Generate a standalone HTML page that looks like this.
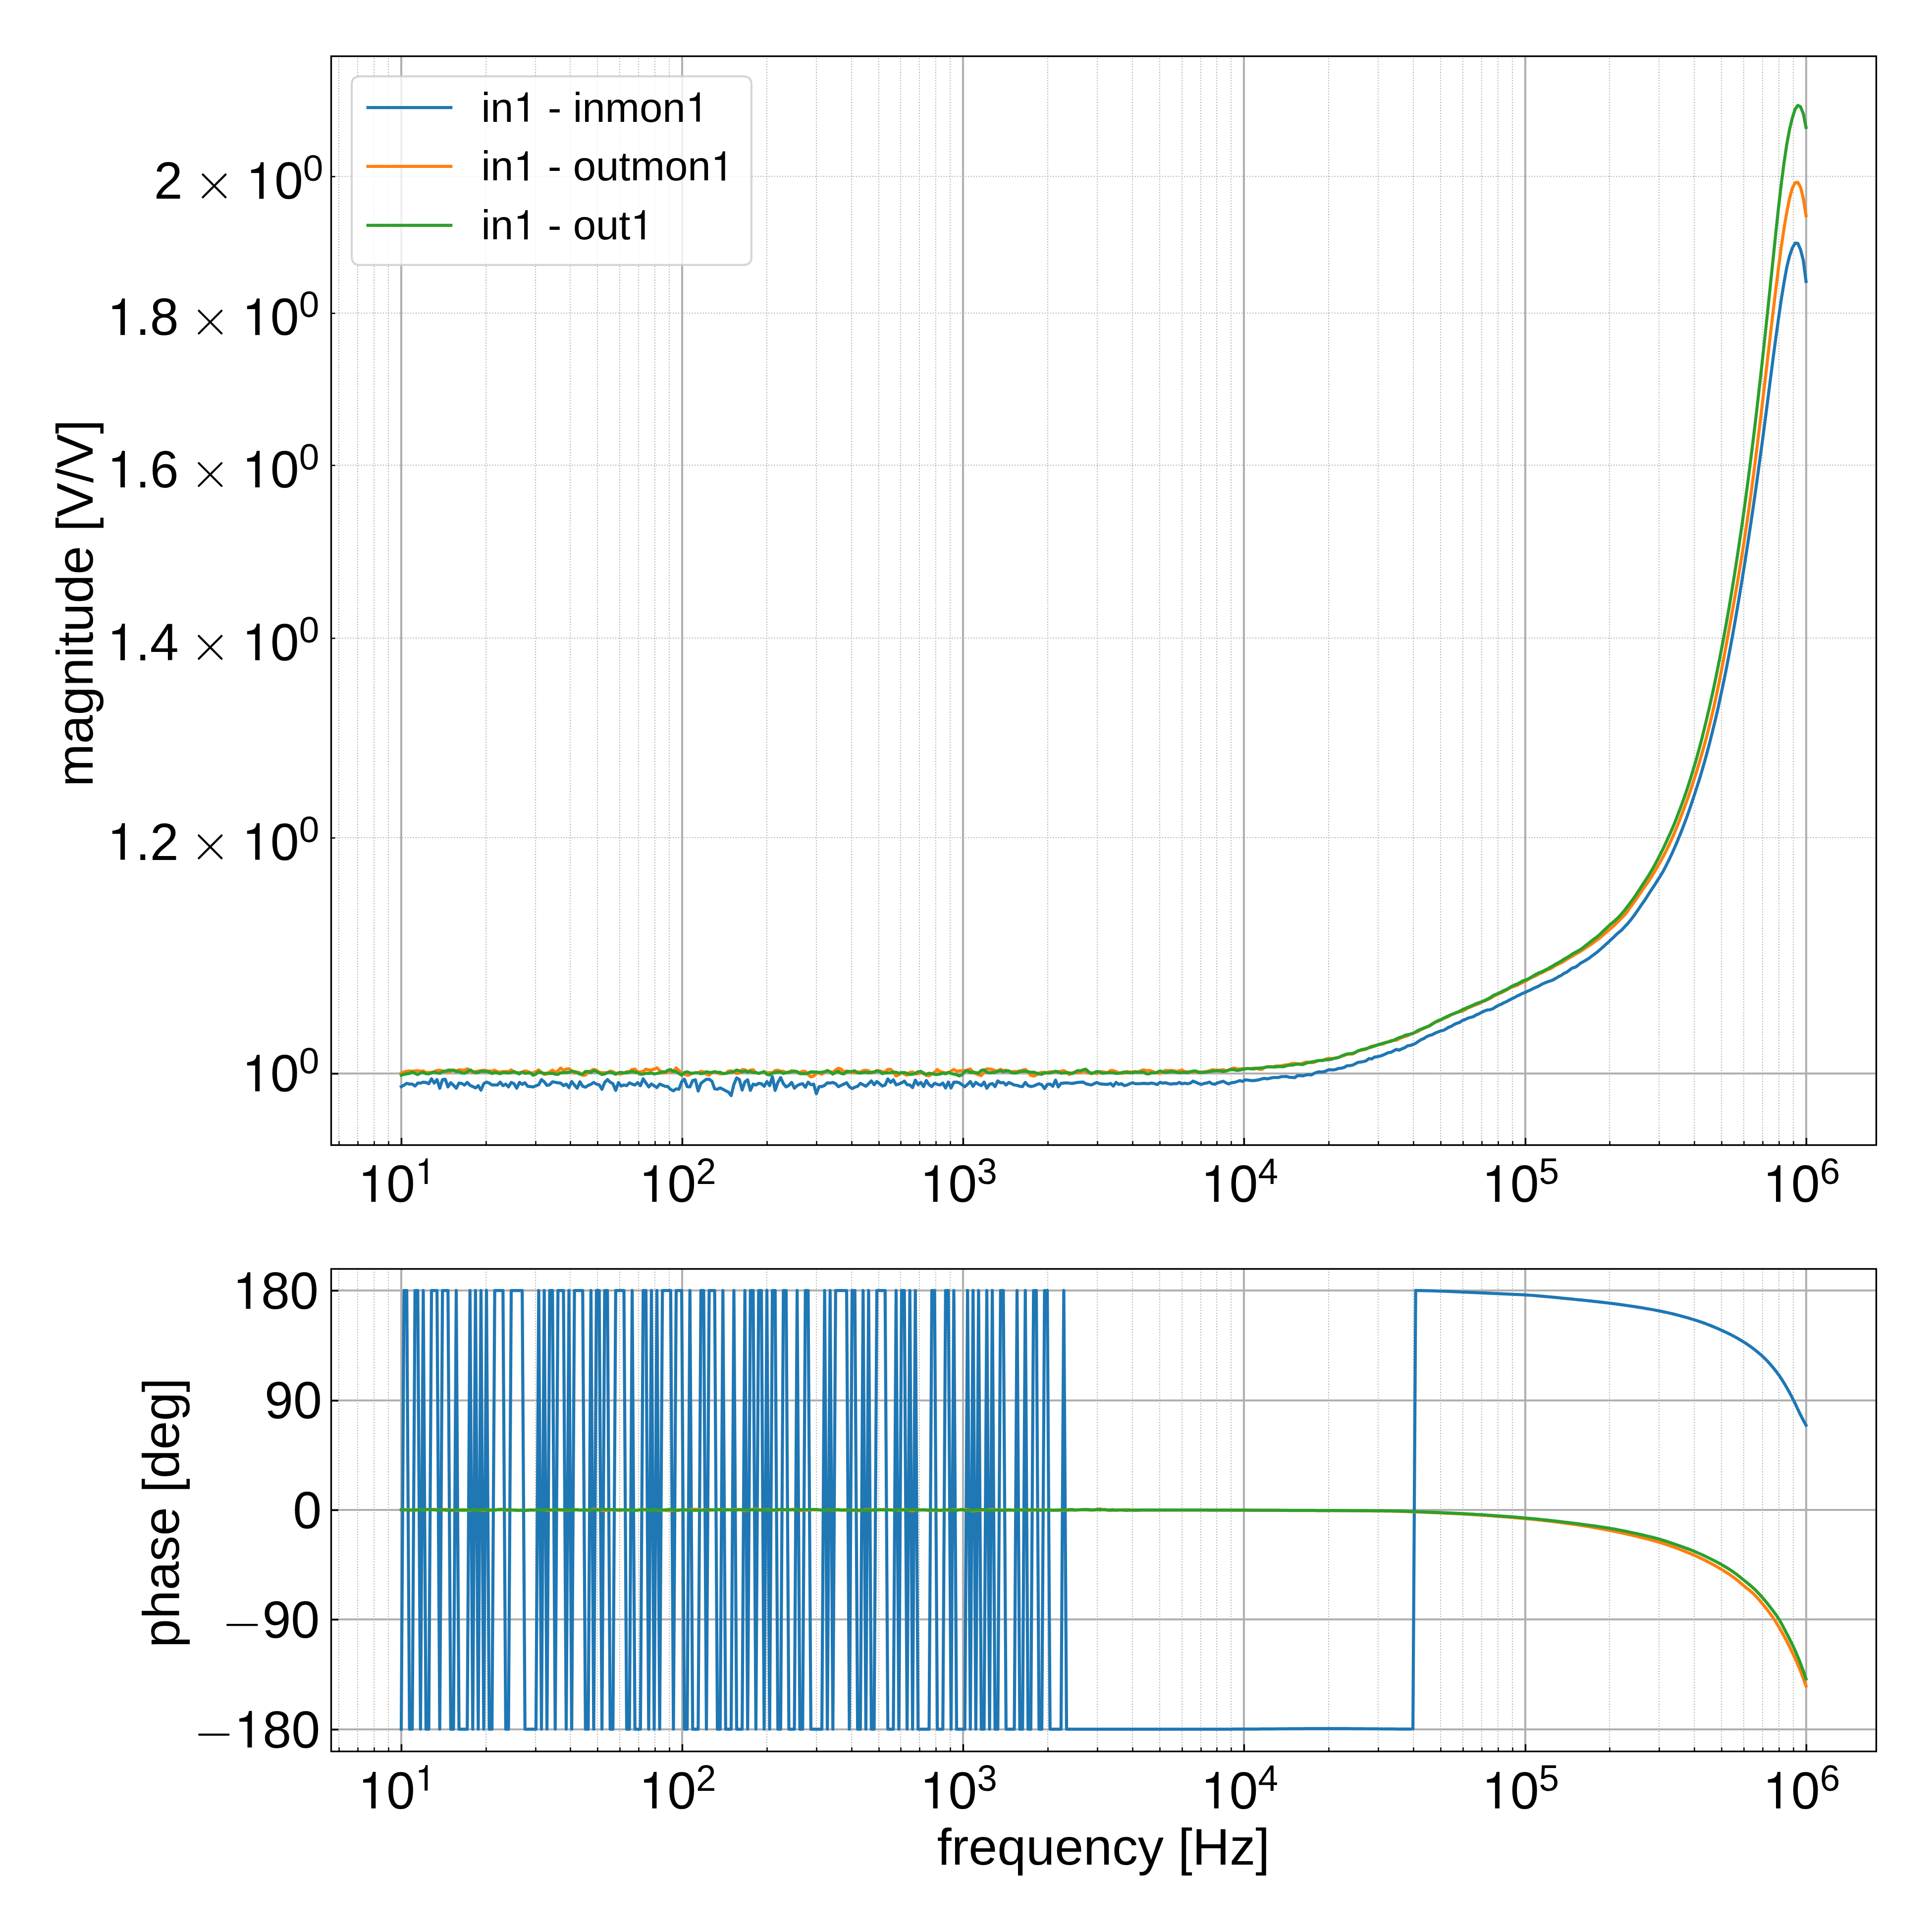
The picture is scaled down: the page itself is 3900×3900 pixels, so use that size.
<!DOCTYPE html>
<html><head><meta charset="utf-8"><title>Bode plot</title><style>html,body{margin:0;padding:0;background:#fff}svg{display:block}</style></head><body>
<svg width="3900" height="3900" viewBox="0 0 3900 3900" font-family="Liberation Sans, sans-serif" fill="#000">
<rect width="3900" height="3900" fill="#fff"/>
<defs><clipPath id="c1"><rect x="668.5" y="113.5" width="3119.0" height="2198.0"/></clipPath><clipPath id="c2"><rect x="668.5" y="2561.5" width="3119.0" height="974.0"/></clipPath></defs>
<g clip-path="url(#c1)">
<path d="M684 2311.5V113.5M722 2311.5V113.5M755 2311.5V113.5M784 2311.5V113.5M981 2311.5V113.5M1081 2311.5V113.5M1151 2311.5V113.5M1206 2311.5V113.5M1251 2311.5V113.5M1289 2311.5V113.5M1322 2311.5V113.5M1351 2311.5V113.5M1548 2311.5V113.5M1648 2311.5V113.5M1719 2311.5V113.5M1774 2311.5V113.5M1818 2311.5V113.5M1856 2311.5V113.5M1889 2311.5V113.5M1918 2311.5V113.5M2115 2311.5V113.5M2215 2311.5V113.5M2286 2311.5V113.5M2341 2311.5V113.5M2386 2311.5V113.5M2424 2311.5V113.5M2456 2311.5V113.5M2485 2311.5V113.5M2682 2311.5V113.5M2782 2311.5V113.5M2853 2311.5V113.5M2908 2311.5V113.5M2953 2311.5V113.5M2991 2311.5V113.5M3024 2311.5V113.5M3053 2311.5V113.5M3249 2311.5V113.5M3349 2311.5V113.5M3420 2311.5V113.5M3475 2311.5V113.5M3520 2311.5V113.5M3558 2311.5V113.5M3591 2311.5V113.5M3620 2311.5V113.5" stroke="#b0b0b0" stroke-width="2.08" stroke-dasharray="2.08 3.44" stroke-dashoffset="-0.5" fill="none"/>
<path d="M668.5 1691H3787.5M668.5 1288H3787.5M668.5 939H3787.5M668.5 632H3787.5M668.5 356H3787.5" stroke="#b0b0b0" stroke-width="2.08" stroke-dasharray="2.08 3.44" stroke-dashoffset="0.5" fill="none"/>
<path d="M810 2311.5V113.5M1377 2311.5V113.5M1944 2311.5V113.5M2511 2311.5V113.5M3079 2311.5V113.5M3646 2311.5V113.5M668.5 2167H3787.5" stroke="#b0b0b0" stroke-width="4.17" fill="none"/>
<polyline points="810,2193.5 815.55,2190.5 821.1,2186.86 826.65,2188.42 832.2,2188.42 837.75,2192.3 843.3,2186.35 848.85,2186.35 854.4,2184.53 859.94,2185.05 865.49,2187.64 871.04,2177.81 876.59,2186.35 882.14,2179.36 887.69,2196.7 893.24,2179.36 898.79,2178.58 904.34,2194.11 909.89,2185.57 915.44,2190.75 920.99,2196.7 926.54,2186.35 932.09,2187.12 937.64,2190.23 943.19,2185.05 948.74,2190.75 954.28,2193.33 959.83,2196.18 965.38,2191.52 970.93,2200.58 976.48,2187.64 982.03,2184.28 987.58,2186.35 993.13,2190.23 998.68,2190.23 1004.23,2190.23 1009.78,2184.53 1015.33,2191.52 1020.88,2188.42 1026.43,2194.11 1031.98,2185.05 1037.53,2187.64 1043.08,2196.7 1048.62,2185.05 1054.17,2188.93 1059.72,2185.83 1065.27,2192.82 1070.82,2193.46 1076.37,2194.11 1081.92,2191.91 1087.47,2189.71 1093.02,2179.36 1098.57,2183.76 1104.12,2191 1109.67,2189.71 1115.22,2183.76 1120.77,2184.79 1126.32,2185.83 1131.87,2186.35 1137.42,2191.52 1142.96,2188.42 1148.51,2195.4 1154.06,2183.24 1159.61,2190.23 1165.16,2196.7 1170.71,2183.76 1176.26,2192.82 1181.81,2194.63 1187.36,2191 1192.91,2188.93 1198.46,2185.05 1204.01,2188.42 1209.56,2189.71 1215.11,2198.77 1220.66,2185.05 1226.21,2179.36 1231.76,2184.53 1237.3,2187.64 1242.85,2201.1 1248.4,2185.57 1253.95,2192.3 1259.5,2190.23 1265.05,2191.52 1270.6,2185.83 1276.15,2188.42 1281.7,2190.23 1287.25,2185.57 1292.8,2191.52 1298.35,2177.81 1303.9,2185.96 1309.45,2194.11 1315,2188.16 1320.55,2191.78 1326.1,2195.4 1331.64,2188.42 1337.19,2190.62 1342.74,2192.82 1348.29,2193.33 1353.84,2199.29 1359.39,2201.87 1364.94,2197.99 1370.49,2198.77 1376.04,2183.76 1381.59,2178.58 1387.14,2193.33 1392.69,2194.11 1398.24,2181.17 1403.79,2179.88 1409.34,2202.39 1414.89,2186.86 1420.44,2182.46 1425.98,2178.58 1431.53,2178.58 1437.08,2182.46 1442.63,2197.99 1448.18,2198.77 1453.73,2196.18 1459.28,2198.77 1464.83,2201.87 1470.38,2204.46 1475.93,2211.45 1481.48,2188.93 1487.03,2175.99 1492.58,2179.36 1498.13,2200.58 1503.68,2183.76 1509.23,2179.88 1514.78,2201.1 1520.32,2188.42 1525.87,2190.23 1531.42,2186.86 1536.97,2187.64 1542.52,2192.82 1548.07,2183.24 1553.62,2191.52 1559.17,2173.41 1564.72,2201.1 1570.27,2185.05 1575.82,2175.22 1581.37,2187.64 1586.92,2194.11 1592.47,2191 1598.02,2185.05 1603.57,2196.7 1609.12,2191.52 1614.66,2188.93 1620.21,2187.64 1625.76,2194.63 1631.31,2184.53 1636.86,2189.71 1642.41,2188.42 1647.96,2207.83 1653.51,2193.33 1659.06,2193.33 1664.61,2191 1670.16,2185.83 1675.71,2186.35 1681.26,2185.05 1686.81,2187.64 1692.36,2193.59 1697.91,2191 1703.46,2188.42 1709,2185.83 1714.55,2193.59 1720.1,2197.47 1725.65,2194.63 1731.2,2192.82 1736.75,2186.86 1742.3,2189.84 1747.85,2192.82 1753.4,2187.64 1758.95,2181.95 1764.5,2189.71 1770.05,2183.24 1775.6,2187.77 1781.15,2192.3 1786.7,2190.23 1792.25,2178.06 1797.8,2185.05 1803.34,2179.88 1808.89,2189.71 1814.44,2188.42 1819.99,2185.83 1825.54,2182.46 1831.09,2189.71 1836.64,2190.23 1842.19,2195.4 1847.74,2180.39 1853.29,2189.71 1858.84,2185.05 1864.39,2193.33 1869.94,2181.17 1875.49,2189.71 1881.04,2193.33 1886.59,2186.86 1892.14,2188.93 1897.68,2190.23 1903.23,2186.35 1908.78,2196.18 1914.33,2184.28 1919.88,2196.18 1925.43,2184.53 1930.98,2184.28 1936.53,2185.83 1942.08,2189.71 1947.63,2193.59 1953.18,2188.93 1958.73,2183.24 1964.28,2192.82 1969.83,2185.05 1975.38,2188.93 1980.93,2191.52 1986.48,2184.53 1992.02,2196.7 1997.57,2188.93 2003.12,2187.12 2008.67,2193.33 2014.22,2181.95 2019.77,2185.83 2025.32,2185.05 2030.87,2190.23 2036.42,2185.05 2041.97,2187.64 2047.52,2190.23 2053.07,2191 2058.62,2192.82 2064.17,2193.33 2069.72,2185.05 2075.27,2191.52 2080.82,2193.33 2086.36,2192.3 2091.91,2189.71 2097.46,2187.64 2103.01,2189.71 2108.56,2197.47 2114.11,2188.93 2119.66,2188.42 2125.21,2192.82 2130.76,2180.39 2136.31,2194.11 2141.86,2186.86 2147.41,2186.35 2152.96,2185.83 2158.51,2186.48 2164.06,2187.12 2169.61,2186.09 2175.16,2185.05 2180.7,2184.66 2186.25,2184.28 2191.8,2187.64 2197.35,2188.93 2202.9,2190.23 2208.45,2187.64 2214,2185.05 2219.55,2187.64 2225.1,2188.29 2230.65,2188.93 2236.2,2188.93 2241.75,2187.12 2247.3,2192.3 2252.85,2185.05 2258.4,2188.93 2263.95,2187.64 2269.5,2191.52 2275.05,2190.23 2280.59,2187.64 2286.14,2185.83 2291.69,2187.64 2297.24,2187.64 2302.79,2187.3 2308.34,2186.81 2313.89,2187.32 2319.44,2187.32 2324.99,2186.25 2330.54,2187.47 2336.09,2189.34 2341.64,2184.79 2347.19,2186.63 2352.74,2185.67 2358.29,2187.34 2363.84,2188.47 2369.39,2187.43 2374.93,2187.69 2380.48,2184.95 2386.03,2187.98 2391.58,2186.45 2397.13,2187.68 2402.68,2186.45 2408.23,2182.5 2413.78,2184.73 2419.33,2187.11 2424.88,2188.92 2430.43,2187.24 2435.98,2186.16 2441.53,2184.36 2447.08,2187.98 2452.63,2188.62 2458.18,2185.87 2463.73,2184.34 2469.27,2182.67 2474.82,2185.92 2480.37,2188.14 2485.92,2185.58 2491.47,2185.11 2497.02,2183.39 2502.57,2181.33 2508.12,2182.89 2513.67,2179.99 2519.22,2180.4 2524.77,2181.07 2530.32,2181.46 2535.87,2180.62 2541.42,2179.78 2546.97,2177.83 2552.52,2176.84 2558.07,2177.76 2563.61,2176.59 2569.16,2175.3 2574.71,2175 2580.26,2175.19 2585.81,2173.49 2591.36,2173.25 2596.91,2172.99 2602.46,2174.52 2608.01,2174.97 2613.56,2175.39 2619.11,2171.36 2624.66,2171.07 2630.21,2171.89 2635.76,2170.1 2641.31,2169.23 2646.86,2169.92 2652.41,2166.99 2657.95,2164.63 2663.5,2163.56 2669.05,2164.08 2674.6,2162.92 2680.15,2160.19 2685.7,2159.4 2691.25,2159.82 2696.8,2158.74 2702.35,2156.6 2707.9,2156.3 2713.45,2154.73 2719,2151.42 2724.55,2151.03 2730.1,2150.24 2735.65,2147.54 2741.2,2144.52 2746.75,2143.83 2752.29,2143.02 2757.84,2141.18 2763.39,2136.86 2768.94,2137.72 2774.49,2133.8 2780.04,2133.14 2785.59,2131.97 2791.14,2130.11 2796.69,2127.6 2802.24,2124.96 2807.79,2124.13 2813.34,2121.14 2818.89,2118.37 2824.44,2119.88 2829.99,2117.11 2835.54,2115.05 2841.09,2111.28 2846.63,2110.43 2852.18,2108.57 2857.73,2105.97 2863.28,2102.18 2868.83,2098.72 2874.38,2096.41 2879.93,2092.55 2885.48,2090.22 2891.03,2088.73 2896.58,2085.68 2902.13,2083.47 2907.68,2081.31 2913.23,2080.05 2918.78,2077.15 2924.33,2073.78 2929.88,2071.61 2935.43,2068 2940.97,2065.68 2946.52,2063.76 2952.07,2060.21 2957.62,2057.98 2963.17,2055.23 2968.72,2053.8 2974.27,2052.26 2979.82,2048.74 2985.37,2046.54 2990.92,2043.57 2996.47,2040.9 3002.02,2038.82 3007.57,2038.24 3013.12,2036.53 3018.67,2032.91 3024.22,2029.61 3029.77,2027.54 3035.31,2024.41 3040.86,2022.04 3046.41,2018.98 3051.96,2016.13 3057.51,2013.49 3063.06,2010.32 3068.61,2007.83 3074.16,2004.93 3079.71,2003.02 3085.26,2000.07 3090.81,1997.83 3096.36,1994.75 3101.91,1992.51 3107.46,1989.88 3113.01,1986.5 3118.56,1984.11 3124.11,1981.81 3129.65,1980.16 3135.2,1978.04 3140.75,1974.79 3146.3,1971.37 3151.85,1968.73 3157.4,1964.65 3162.95,1962.28 3168.5,1958.12 3174.05,1954.08 3179.6,1952.62 3185.15,1948.82 3190.7,1944.21 3196.25,1941.17 3201.8,1938 3207.35,1934.66 3212.9,1930.28 3218.45,1926.28 3223.99,1922.11 3229.54,1917.26 3235.09,1912.46 3240.64,1907.16 3246.19,1902.66 3251.74,1896.85 3257.29,1892.03 3262.84,1886.48 3268.39,1881.65 3273.94,1877.04 3279.49,1870.82 3285.04,1865.16 3290.59,1858.6 3296.14,1851.35 3301.69,1843.82 3307.24,1835.68 3312.79,1827.56 3318.33,1819.77 3323.88,1811.42 3329.43,1802.65 3334.98,1794.09 3340.53,1785.84 3346.08,1777.01 3351.63,1768.28 3357.18,1759.12 3362.73,1748.43 3368.28,1737.28 3373.83,1725.76 3379.38,1713.5 3384.93,1700.69 3390.48,1687.24 3396.03,1673.27 3401.58,1658.6 3407.13,1643.59 3412.67,1627.49 3418.22,1611.01 3423.77,1593.85 3429.32,1576.82 3434.87,1558.29 3440.42,1539.29 3445.97,1519.05 3451.52,1498.1 3457.07,1475.76 3462.62,1453.04 3468.17,1429.32 3473.72,1403.27 3479.27,1377.29 3484.82,1349.85 3490.37,1320.77 3495.92,1290.95 3501.47,1260.15 3507.01,1227.93 3512.56,1195.23 3518.11,1161.14 3523.66,1126.23 3529.21,1090.31 3534.76,1053.39 3540.31,1015.37 3545.86,976.19 3551.41,935.74 3556.96,895.3 3562.51,853.28 3568.06,810.42 3573.61,766.95 3579.16,723.9 3584.71,682.15 3590.26,642.14 3595.81,604.29 3601.35,569.9 3606.9,539.52 3612.45,516.72 3618,500.7 3623.55,490.92 3629.1,491.15 3634.65,503.73 3640.2,525.72 3645.75,568.14" fill="none" stroke="#1f77b4" stroke-width="6.25" stroke-linejoin="round" stroke-linecap="square"/>
<polyline points="810,2166.3 815.55,2164 821.1,2162.5 826.65,2161.89 832.2,2162.75 837.75,2161.68 843.3,2161.4 848.85,2162.27 854.4,2161.74 859.94,2164.94 865.49,2164.89 871.04,2164.73 876.59,2163.18 882.14,2160.81 887.69,2160.29 893.24,2161.87 898.79,2162.49 904.34,2164.27 909.89,2162.91 915.44,2160.02 920.99,2161.41 926.54,2159.39 932.09,2160.43 937.64,2160.26 943.19,2157.47 948.74,2162.22 954.28,2164.36 959.83,2163.18 965.38,2162.08 970.93,2161.29 976.48,2160.24 982.03,2161.43 987.58,2161.99 993.13,2162.26 998.68,2160.51 1004.23,2163.4 1009.78,2164.34 1015.33,2163.04 1020.88,2162.87 1026.43,2163.2 1031.98,2159.75 1037.53,2163.61 1043.08,2165.25 1048.62,2165.23 1054.17,2164.46 1059.72,2161.81 1065.27,2162.85 1070.82,2165.77 1076.37,2165.85 1081.92,2163.1 1087.47,2159.79 1093.02,2164.88 1098.57,2168.81 1104.12,2168.16 1109.67,2163.7 1115.22,2160.08 1120.77,2164.61 1126.32,2161.41 1131.87,2156.07 1137.42,2160.39 1142.96,2158 1148.51,2157.31 1154.06,2161.56 1159.61,2166.32 1165.16,2164.03 1170.71,2165.8 1176.26,2170.82 1181.81,2170.11 1187.36,2164.63 1192.91,2161.31 1198.46,2158.66 1204.01,2160.49 1209.56,2164.48 1215.11,2165.28 1220.66,2165.32 1226.21,2165.83 1231.76,2162.15 1237.3,2163.29 1242.85,2166.29 1248.4,2167.21 1253.95,2167.81 1259.5,2165.53 1265.05,2163.37 1270.6,2163.21 1276.15,2159.09 1281.7,2158.06 1287.25,2163.47 1292.8,2164.29 1298.35,2162.58 1303.9,2158.28 1309.45,2159.95 1315,2160.38 1320.55,2157.84 1326.1,2155.37 1331.64,2161.05 1337.19,2166.31 1342.74,2165 1348.29,2162.09 1353.84,2163.65 1359.39,2162.88 1364.94,2155.8 1370.49,2160.79 1376.04,2165.79 1381.59,2168.01 1387.14,2170.66 1392.69,2169.15 1398.24,2166.03 1403.79,2165.64 1409.34,2165.7 1414.89,2162.71 1420.44,2163.83 1425.98,2168.37 1431.53,2170.33 1437.08,2165.12 1442.63,2163.47 1448.18,2165.56 1453.73,2167.85 1459.28,2166.49 1464.83,2167 1470.38,2162.01 1475.93,2161.78 1481.48,2163.63 1487.03,2166.9 1492.58,2166.01 1498.13,2159.14 1503.68,2159.57 1509.23,2162.96 1514.78,2160.34 1520.32,2159.38 1525.87,2165.69 1531.42,2166.76 1536.97,2165.15 1542.52,2163.8 1548.07,2166.01 1553.62,2165.17 1559.17,2165.75 1564.72,2161.12 1570.27,2160.29 1575.82,2162.61 1581.37,2162.45 1586.92,2165.24 1592.47,2164.19 1598.02,2161.21 1603.57,2162.53 1609.12,2163.66 1614.66,2165.42 1620.21,2162.26 1625.76,2162.96 1631.31,2169.3 1636.86,2173.94 1642.41,2172.24 1647.96,2166.26 1653.51,2166.07 1659.06,2168.48 1664.61,2163.93 1670.16,2160.73 1675.71,2163.51 1681.26,2164.34 1686.81,2159.93 1692.36,2156.3 1697.91,2158.31 1703.46,2163.42 1709,2161.99 1714.55,2162.73 1720.1,2164.91 1725.65,2165.51 1731.2,2163.93 1736.75,2163.97 1742.3,2161.2 1747.85,2160.62 1753.4,2161.47 1758.95,2166.1 1764.5,2164.11 1770.05,2161.12 1775.6,2161.69 1781.15,2163.48 1786.7,2163.99 1792.25,2158.57 1797.8,2158.53 1803.34,2164.24 1808.89,2172.14 1814.44,2169.3 1819.99,2165.25 1825.54,2168.06 1831.09,2170.6 1836.64,2164.92 1842.19,2163.76 1847.74,2167.66 1853.29,2167.35 1858.84,2165.87 1864.39,2165.07 1869.94,2171 1875.49,2171.72 1881.04,2168.14 1886.59,2164.4 1892.14,2159.11 1897.68,2163.45 1903.23,2164.44 1908.78,2165.73 1914.33,2166.07 1919.88,2161.79 1925.43,2158.78 1930.98,2162.44 1936.53,2161.7 1942.08,2161.48 1947.63,2161.37 1953.18,2159.79 1958.73,2157.84 1964.28,2165.46 1969.83,2167.21 1975.38,2169.73 1980.93,2171.21 1986.48,2164.23 1992.02,2157.56 1997.57,2158.05 2003.12,2158.85 2008.67,2161.3 2014.22,2161.63 2019.77,2158.54 2025.32,2161.42 2030.87,2160.3 2036.42,2163.25 2041.97,2163.7 2047.52,2162.97 2053.07,2163.01 2058.62,2161.89 2064.17,2160.25 2069.72,2158.88 2075.27,2164.14 2080.82,2170.8 2086.36,2172.23 2091.91,2169.99 2097.46,2166.5 2103.01,2164.29 2108.56,2167.11 2114.11,2165.17 2119.66,2163.63 2125.21,2163.41 2130.76,2163.72 2136.31,2163.07 2141.86,2162.65 2147.41,2161.16 2152.96,2164.24 2158.51,2169.11 2164.06,2165.64 2169.61,2163.97 2175.16,2165.74 2180.7,2165.29 2186.25,2162.06 2191.8,2163.55 2197.35,2166.23 2202.9,2165.55 2208.45,2165.81 2214,2167.08 2219.55,2163.96 2225.1,2163.48 2230.65,2164.25 2236.2,2165.47 2241.75,2160.8 2247.3,2161.09 2252.85,2163.13 2258.4,2165.56 2263.95,2166.8 2269.5,2166.25 2275.05,2162.61 2280.59,2164.38 2286.14,2163.7 2291.69,2163.11 2297.24,2164.17 2302.79,2161.52 2308.34,2159.58 2313.89,2161.24 2319.44,2160.82 2324.99,2162.25 2330.54,2164.5 2336.09,2165.74 2341.64,2166.74 2347.19,2163.56 2352.74,2160.64 2358.29,2161.01 2363.84,2160.96 2369.39,2161.26 2374.93,2163.1 2380.48,2161.44 2386.03,2160.12 2391.58,2163.1 2397.13,2163.46 2402.68,2163.5 2408.23,2163.52 2413.78,2163.72 2419.33,2163.56 2424.88,2164.43 2430.43,2163.61 2435.98,2162.93 2441.53,2161.74 2447.08,2159.46 2452.63,2160.09 2458.18,2160.57 2463.73,2160.14 2469.27,2159.36 2474.82,2161.71 2480.37,2160.1 2485.92,2157.04 2491.47,2156.14 2497.02,2157.6 2502.57,2157.91 2508.12,2157.23 2513.67,2157.35 2519.22,2156.97 2524.77,2157.25 2530.32,2156.1 2535.87,2156.47 2541.42,2158.32 2546.97,2158.74 2552.52,2154.85 2558.07,2153.4 2563.61,2153.41 2569.16,2153.9 2574.71,2152.08 2580.26,2151.75 2585.81,2151.63 2591.36,2150.19 2596.91,2149.48 2602.46,2148.81 2608.01,2146.83 2613.56,2146.68 2619.11,2147.58 2624.66,2147.71 2630.21,2146.19 2635.76,2144.06 2641.31,2144.47 2646.86,2145.28 2652.41,2144.33 2657.95,2142.34 2663.5,2140.84 2669.05,2140.63 2674.6,2138.7 2680.15,2136.75 2685.7,2136.55 2691.25,2137.19 2696.8,2135.74 2702.35,2134.25 2707.9,2131.98 2713.45,2130.71 2719,2128.29 2724.55,2127.41 2730.1,2127.73 2735.65,2124.92 2741.2,2121.7 2746.75,2120.14 2752.29,2119.24 2757.84,2117.92 2763.39,2114.61 2768.94,2111.72 2774.49,2110.89 2780.04,2109.8 2785.59,2108.52 2791.14,2107.47 2796.69,2105.39 2802.24,2103.22 2807.79,2100.64 2813.34,2100.24 2818.89,2099.58 2824.44,2096.91 2829.99,2094.26 2835.54,2092.56 2841.09,2091.06 2846.63,2087.61 2852.18,2085.52 2857.73,2083.95 2863.28,2081.56 2868.83,2078.4 2874.38,2075.82 2879.93,2072.94 2885.48,2070.22 2891.03,2067.09 2896.58,2063.83 2902.13,2061.83 2907.68,2059.61 2913.23,2056.15 2918.78,2053.8 2924.33,2051.55 2929.88,2048.32 2935.43,2045.89 2940.97,2043.34 2946.52,2042.22 2952.07,2040.93 2957.62,2038.16 2963.17,2034.69 2968.72,2032.49 2974.27,2030.16 2979.82,2028.13 2985.37,2026.13 2990.92,2022.79 2996.47,2020.8 3002.02,2018.2 3007.57,2015.76 3013.12,2012.27 3018.67,2008.84 3024.22,2006.58 3029.77,2004.24 3035.31,2001.39 3040.86,1998.7 3046.41,1995.25 3051.96,1992.1 3057.51,1990.94 3063.06,1988.67 3068.61,1985.58 3074.16,1982.89 3079.71,1980.39 3085.26,1976.84 3090.81,1973.65 3096.36,1971.37 3101.91,1968.87 3107.46,1965.51 3113.01,1963.3 3118.56,1960.14 3124.11,1957.36 3129.65,1955.46 3135.2,1952.21 3140.75,1948.62 3146.3,1945.9 3151.85,1943.39 3157.4,1940.11 3162.95,1936.23 3168.5,1933.14 3174.05,1930.06 3179.6,1926.61 3185.15,1923.68 3190.7,1920.35 3196.25,1916.63 3201.8,1912.99 3207.35,1909.42 3212.9,1905.5 3218.45,1901.24 3223.99,1897.16 3229.54,1893.11 3235.09,1888.29 3240.64,1883.57 3246.19,1878.76 3251.74,1873.9 3257.29,1869.23 3262.84,1863.59 3268.39,1858.38 3273.94,1852.65 3279.49,1847.01 3285.04,1840.07 3290.59,1831.83 3296.14,1824.46 3301.69,1816.92 3307.24,1808.61 3312.79,1800.23 3318.33,1792.3 3323.88,1784.68 3329.43,1776.54 3334.98,1767.91 3340.53,1758.91 3346.08,1749 3351.63,1739.63 3357.18,1729.42 3362.73,1719 3368.28,1707.47 3373.83,1695.39 3379.38,1683.04 3384.93,1669.6 3390.48,1655.54 3396.03,1641 3401.58,1626.32 3407.13,1611.04 3412.67,1594.95 3418.22,1578.03 3423.77,1560.77 3429.32,1542.51 3434.87,1523.59 3440.42,1504.1 3445.97,1483.47 3451.52,1461.34 3457.07,1438.16 3462.62,1413.63 3468.17,1387.41 3473.72,1359.6 3479.27,1330.8 3484.82,1300.71 3490.37,1270.35 3495.92,1239.65 3501.47,1208.81 3507.01,1177.02 3512.56,1144.02 3518.11,1109.84 3523.66,1073.51 3529.21,1035.64 3534.76,995.64 3540.31,953.65 3545.86,910.36 3551.41,865.71 3556.96,819.56 3562.51,772.45 3568.06,724.72 3573.61,676.97 3579.16,630.04 3584.71,583.87 3590.26,539.58 3595.81,497.95 3601.35,460.68 3606.9,427.93 3612.45,400.32 3618,379.95 3623.55,369.05 3629.1,368.12 3634.65,377.75 3640.2,400.28 3645.75,435.47" fill="none" stroke="#ff7f0e" stroke-width="6.25" stroke-linejoin="round" stroke-linecap="square"/>
<polyline points="810,2170.6 815.55,2168.6 821.1,2167.6 826.65,2167 832.2,2163.8 837.75,2166.83 843.3,2169.16 848.85,2165.81 854.4,2164.91 859.94,2167.26 865.49,2167.64 871.04,2166.08 876.59,2164.18 882.14,2166 887.69,2166.75 893.24,2163.29 898.79,2162.5 904.34,2160.34 909.89,2160.12 915.44,2160.62 920.99,2163.06 926.54,2163.2 932.09,2165.83 937.64,2166.52 943.19,2163.71 948.74,2159.6 954.28,2162.69 959.83,2165.56 965.38,2164.98 970.93,2162.13 976.48,2162.81 982.03,2162.63 987.58,2164.12 993.13,2167.08 998.68,2164.87 1004.23,2165.88 1009.78,2167.44 1015.33,2165.14 1020.88,2165.21 1026.43,2166.06 1031.98,2165.06 1037.53,2163.07 1043.08,2166.09 1048.62,2167.75 1054.17,2163.98 1059.72,2166.6 1065.27,2166.21 1070.82,2165.97 1076.37,2170.49 1081.92,2168.15 1087.47,2163.6 1093.02,2165.36 1098.57,2166.94 1104.12,2166.27 1109.67,2167.05 1115.22,2166.61 1120.77,2168.33 1126.32,2168.99 1131.87,2165.41 1137.42,2165.18 1142.96,2164.82 1148.51,2164.57 1154.06,2162.48 1159.61,2163.14 1165.16,2165.41 1170.71,2168.48 1176.26,2167.93 1181.81,2162.8 1187.36,2163.2 1192.91,2164.83 1198.46,2161.11 1204.01,2162.82 1209.56,2166.02 1215.11,2169.01 1220.66,2167.96 1226.21,2165.1 1231.76,2164.27 1237.3,2165.96 1242.85,2168.6 1248.4,2165.6 1253.95,2164.83 1259.5,2166.08 1265.05,2165.45 1270.6,2164.13 1276.15,2162.83 1281.7,2164.3 1287.25,2165.51 1292.8,2168.49 1298.35,2168.05 1303.9,2166.62 1309.45,2166.86 1315,2166.21 1320.55,2167.77 1326.1,2166.92 1331.64,2165.9 1337.19,2163.35 1342.74,2163.98 1348.29,2160.29 1353.84,2159.23 1359.39,2162.5 1364.94,2163.39 1370.49,2167.08 1376.04,2170.29 1381.59,2164.98 1387.14,2163.64 1392.69,2165.97 1398.24,2166.77 1403.79,2165.42 1409.34,2165.55 1414.89,2167.49 1420.44,2166.54 1425.98,2163.55 1431.53,2164.6 1437.08,2164.76 1442.63,2163.38 1448.18,2164.65 1453.73,2164.61 1459.28,2167.32 1464.83,2166.91 1470.38,2165.48 1475.93,2164.2 1481.48,2163.21 1487.03,2159.93 1492.58,2161.63 1498.13,2163.79 1503.68,2161.63 1509.23,2164.41 1514.78,2162.84 1520.32,2165.25 1525.87,2164.88 1531.42,2166.83 1536.97,2165.29 1542.52,2163.14 1548.07,2168.43 1553.62,2169.92 1559.17,2166.4 1564.72,2164.78 1570.27,2164.21 1575.82,2164.09 1581.37,2166.92 1586.92,2165.19 1592.47,2164.39 1598.02,2163.2 1603.57,2162.45 1609.12,2163.14 1614.66,2167.36 1620.21,2167.05 1625.76,2167.74 1631.31,2165.85 1636.86,2163.73 1642.41,2163.82 1647.96,2164.03 1653.51,2164.86 1659.06,2164.49 1664.61,2163.47 1670.16,2161.49 1675.71,2163.94 1681.26,2168.25 1686.81,2164.53 1692.36,2162.87 1697.91,2166.67 1703.46,2167.97 1709,2163.19 1714.55,2163.41 1720.1,2162.52 1725.65,2161.58 1731.2,2165.86 1736.75,2166.2 1742.3,2165.13 1747.85,2164.28 1753.4,2165.61 1758.95,2164.6 1764.5,2163.92 1770.05,2161.91 1775.6,2162.95 1781.15,2167.31 1786.7,2165.75 1792.25,2165.84 1797.8,2165.4 1803.34,2164.13 1808.89,2164.57 1814.44,2166.41 1819.99,2165.29 1825.54,2165.02 1831.09,2166.49 1836.64,2168.91 1842.19,2168.46 1847.74,2166.58 1853.29,2163.47 1858.84,2162.69 1864.39,2167.47 1869.94,2168.51 1875.49,2166.5 1881.04,2167.38 1886.59,2168.53 1892.14,2168.92 1897.68,2168.04 1903.23,2166.51 1908.78,2167.73 1914.33,2164.62 1919.88,2166.98 1925.43,2168.15 1930.98,2169.55 1936.53,2171.88 1942.08,2169.63 1947.63,2162.74 1953.18,2161.37 1958.73,2165.27 1964.28,2163.86 1969.83,2165.39 1975.38,2166.17 1980.93,2160.69 1986.48,2159.51 1992.02,2164.47 1997.57,2165.67 2003.12,2165.05 2008.67,2164.74 2014.22,2162.41 2019.77,2161.32 2025.32,2163.22 2030.87,2161.98 2036.42,2161.57 2041.97,2165.33 2047.52,2166.07 2053.07,2165.6 2058.62,2163.23 2064.17,2162.67 2069.72,2162.31 2075.27,2163.1 2080.82,2164.7 2086.36,2164.3 2091.91,2165.89 2097.46,2167.8 2103.01,2168.73 2108.56,2164.74 2114.11,2166.17 2119.66,2165.87 2125.21,2164.41 2130.76,2162.42 2136.31,2164.13 2141.86,2166.45 2147.41,2165.8 2152.96,2165.33 2158.51,2165.67 2164.06,2167.26 2169.61,2164.72 2175.16,2161.13 2180.7,2161.68 2186.25,2159.66 2191.8,2158.39 2197.35,2163.35 2202.9,2167.29 2208.45,2165.52 2214,2162.92 2219.55,2163.79 2225.1,2166.7 2230.65,2166.22 2236.2,2165.44 2241.75,2165.26 2247.3,2165.76 2252.85,2166.83 2258.4,2166.65 2263.95,2165.33 2269.5,2164.08 2275.05,2165.11 2280.59,2165.06 2286.14,2165.82 2291.69,2163.87 2297.24,2164.37 2302.79,2164.46 2308.34,2164.16 2313.89,2167.59 2319.44,2167.7 2324.99,2165.49 2330.54,2166 2336.09,2164.58 2341.64,2161.71 2347.19,2163.89 2352.74,2164.77 2358.29,2164.21 2363.84,2163.07 2369.39,2163.52 2374.93,2164.49 2380.48,2165.74 2386.03,2165.01 2391.58,2164.76 2397.13,2165.46 2402.68,2163.55 2408.23,2162.16 2413.78,2161.8 2419.33,2164.73 2424.88,2165.17 2430.43,2164.55 2435.98,2163.78 2441.53,2162.85 2447.08,2162.31 2452.63,2161.58 2458.18,2161.27 2463.73,2161.83 2469.27,2162.81 2474.82,2161.79 2480.37,2160.28 2485.92,2159.17 2491.47,2159.41 2497.02,2160.94 2502.57,2160.12 2508.12,2158.8 2513.67,2157.63 2519.22,2156.75 2524.77,2157.47 2530.32,2157.91 2535.87,2156.67 2541.42,2156 2546.97,2155.74 2552.52,2155.05 2558.07,2153.57 2563.61,2153.6 2569.16,2153.54 2574.71,2153.87 2580.26,2152.82 2585.81,2153.24 2591.36,2153.34 2596.91,2151.35 2602.46,2150.17 2608.01,2150.06 2613.56,2149.15 2619.11,2147.97 2624.66,2148.57 2630.21,2148.8 2635.76,2146.57 2641.31,2144.87 2646.86,2143.7 2652.41,2143.18 2657.95,2141.4 2663.5,2140.73 2669.05,2140.98 2674.6,2139.41 2680.15,2139.35 2685.7,2138.71 2691.25,2136.71 2696.8,2135.61 2702.35,2134.73 2707.9,2131.94 2713.45,2129.39 2719,2127.52 2724.55,2127.03 2730.1,2126.58 2735.65,2124.42 2741.2,2121.34 2746.75,2119.36 2752.29,2118.14 2757.84,2116.91 2763.39,2115.09 2768.94,2113.46 2774.49,2111.65 2780.04,2109.51 2785.59,2107.78 2791.14,2106.15 2796.69,2104.39 2802.24,2103.22 2807.79,2102.15 2813.34,2099.78 2818.89,2097.04 2824.44,2094.51 2829.99,2093.03 2835.54,2090.3 2841.09,2088.61 2846.63,2087.92 2852.18,2085.96 2857.73,2082.86 2863.28,2079.65 2868.83,2077.44 2874.38,2075.09 2879.93,2073.28 2885.48,2071.19 2891.03,2067.39 2896.58,2063.61 2902.13,2060.67 2907.68,2058.48 2913.23,2055.82 2918.78,2052.89 2924.33,2050.5 2929.88,2047.87 2935.43,2046.16 2940.97,2043.96 2946.52,2041.18 2952.07,2038.14 2957.62,2035.89 2963.17,2033.46 2968.72,2031.06 2974.27,2028.72 2979.82,2026.05 2985.37,2023.91 2990.92,2022.34 2996.47,2019.71 3002.02,2017.11 3007.57,2014.24 3013.12,2010.35 3018.67,2007.61 3024.22,2005.41 3029.77,2002.75 3035.31,1999.87 3040.86,1997.48 3046.41,1994.32 3051.96,1990.8 3057.51,1988.23 3063.06,1986.3 3068.61,1983.34 3074.16,1980.01 3079.71,1978.26 3085.26,1975.72 3090.81,1972.78 3096.36,1969.21 3101.91,1966.01 3107.46,1963.34 3113.01,1961.46 3118.56,1958.45 3124.11,1955.74 3129.65,1952.49 3135.2,1949.38 3140.75,1945.91 3146.3,1943.01 3151.85,1939.93 3157.4,1936.11 3162.95,1933.06 3168.5,1929.53 3174.05,1925.85 3179.6,1922.79 3185.15,1919.75 3190.7,1916.43 3196.25,1912.43 3201.8,1908.05 3207.35,1903.68 3212.9,1899.2 3218.45,1894.97 3223.99,1890.96 3229.54,1886.28 3235.09,1880.73 3240.64,1875.64 3246.19,1870.34 3251.74,1865.25 3257.29,1860.65 3262.84,1855.59 3268.39,1850.37 3273.94,1844 3279.49,1837.43 3285.04,1830.28 3290.59,1822.85 3296.14,1815.5 3301.69,1807.41 3307.24,1799.09 3312.79,1790.48 3318.33,1781.95 3323.88,1773.67 3329.43,1764.94 3334.98,1755.64 3340.53,1745.51 3346.08,1735.15 3351.63,1724.27 3357.18,1713.38 3362.73,1701.46 3368.28,1689.2 3373.83,1677.06 3379.38,1664.12 3384.93,1649.92 3390.48,1635.49 3396.03,1620.56 3401.58,1604.88 3407.13,1588.58 3412.67,1571.13 3418.22,1553.02 3423.77,1534.2 3429.32,1514.16 3434.87,1493.29 3440.42,1471.1 3445.97,1447.87 3451.52,1423.86 3457.07,1399.22 3462.62,1372.85 3468.17,1345.61 3473.72,1317.42 3479.27,1288.17 3484.82,1257.88 3490.37,1226.42 3495.92,1193.05 3501.47,1158.56 3507.01,1122.99 3512.56,1086.04 3518.11,1047.89 3523.66,1007.87 3529.21,965.88 3534.76,922.48 3540.31,877.81 3545.86,831.33 3551.41,782.7 3556.96,733.24 3562.51,682.26 3568.06,630.26 3573.61,577.11 3579.16,523.62 3584.71,470 3590.26,418.25 3595.81,370.94 3601.35,328.38 3606.9,290.92 3612.45,261.25 3618,238.51 3623.55,220.68 3629.1,212.77 3634.65,215.58 3640.2,229.42 3645.75,257.32" fill="none" stroke="#2ca02c" stroke-width="6.25" stroke-linejoin="round" stroke-linecap="square"/>
</g>
<path d="M810.5 2311.5v-14.58M1377.5 2311.5v-14.58M1944.5 2311.5v-14.58M2511.5 2311.5v-14.58M3079.5 2311.5v-14.58M3646.5 2311.5v-14.58M668.5 2167.5h14.58" stroke="#000" stroke-width="3.33" fill="none"/>
<path d="M684.5 2311.5v-8.33M722.5 2311.5v-8.33M755.5 2311.5v-8.33M784.5 2311.5v-8.33M981.5 2311.5v-8.33M1081.5 2311.5v-8.33M1151.5 2311.5v-8.33M1206.5 2311.5v-8.33M1251.5 2311.5v-8.33M1289.5 2311.5v-8.33M1322.5 2311.5v-8.33M1351.5 2311.5v-8.33M1548.5 2311.5v-8.33M1648.5 2311.5v-8.33M1719.5 2311.5v-8.33M1774.5 2311.5v-8.33M1818.5 2311.5v-8.33M1856.5 2311.5v-8.33M1889.5 2311.5v-8.33M1918.5 2311.5v-8.33M2115.5 2311.5v-8.33M2215.5 2311.5v-8.33M2286.5 2311.5v-8.33M2341.5 2311.5v-8.33M2386.5 2311.5v-8.33M2424.5 2311.5v-8.33M2456.5 2311.5v-8.33M2485.5 2311.5v-8.33M2682.5 2311.5v-8.33M2782.5 2311.5v-8.33M2853.5 2311.5v-8.33M2908.5 2311.5v-8.33M2953.5 2311.5v-8.33M2991.5 2311.5v-8.33M3024.5 2311.5v-8.33M3053.5 2311.5v-8.33M3249.5 2311.5v-8.33M3349.5 2311.5v-8.33M3420.5 2311.5v-8.33M3475.5 2311.5v-8.33M3520.5 2311.5v-8.33M3558.5 2311.5v-8.33M3591.5 2311.5v-8.33M3620.5 2311.5v-8.33M668.5 1691.5h8.33M668.5 1288.5h8.33M668.5 939.5h8.33M668.5 632.5h8.33M668.5 356.5h8.33" stroke="#000" stroke-width="2.5" fill="none"/>
<rect x="668.5" y="113.5" width="3119.0" height="2198.0" fill="none" stroke="#000" stroke-width="3.33" stroke-linejoin="miter"/>
<g clip-path="url(#c2)">
<path d="M684 3535.5V2561.5M722 3535.5V2561.5M755 3535.5V2561.5M784 3535.5V2561.5M981 3535.5V2561.5M1081 3535.5V2561.5M1151 3535.5V2561.5M1206 3535.5V2561.5M1251 3535.5V2561.5M1289 3535.5V2561.5M1322 3535.5V2561.5M1351 3535.5V2561.5M1548 3535.5V2561.5M1648 3535.5V2561.5M1719 3535.5V2561.5M1774 3535.5V2561.5M1818 3535.5V2561.5M1856 3535.5V2561.5M1889 3535.5V2561.5M1918 3535.5V2561.5M2115 3535.5V2561.5M2215 3535.5V2561.5M2286 3535.5V2561.5M2341 3535.5V2561.5M2386 3535.5V2561.5M2424 3535.5V2561.5M2456 3535.5V2561.5M2485 3535.5V2561.5M2682 3535.5V2561.5M2782 3535.5V2561.5M2853 3535.5V2561.5M2908 3535.5V2561.5M2953 3535.5V2561.5M2991 3535.5V2561.5M3024 3535.5V2561.5M3053 3535.5V2561.5M3249 3535.5V2561.5M3349 3535.5V2561.5M3420 3535.5V2561.5M3475 3535.5V2561.5M3520 3535.5V2561.5M3558 3535.5V2561.5M3591 3535.5V2561.5M3620 3535.5V2561.5" stroke="#b0b0b0" stroke-width="2.08" stroke-dasharray="2.08 3.44" stroke-dashoffset="-0.5" fill="none"/>
<path d="M810 3535.5V2561.5M1377 3535.5V2561.5M1944 3535.5V2561.5M2511 3535.5V2561.5M3079 3535.5V2561.5M3646 3535.5V2561.5M668.5 3491H3787.5M668.5 3269H3787.5M668.5 3048H3787.5M668.5 2827H3787.5M668.5 2605H3787.5" stroke="#b0b0b0" stroke-width="4.17" fill="none"/>
<polyline points="810,3490.6 815.55,2605 821.1,2605 826.65,3490.6 832.2,3490.6 837.75,2605 843.3,2605 848.85,3490.6 854.4,2605 859.94,3490.6 865.49,3490.6 871.04,2605 876.59,2605 882.14,2605 887.69,3490.6 893.24,2605 898.79,2605 904.34,2605 909.89,3490.6 915.44,3490.6 920.99,2605 926.54,3490.6 932.09,3490.6 937.64,3490.6 943.19,3490.6 948.74,2605 954.28,3490.6 959.83,2605 965.38,3490.6 970.93,2605 976.48,3490.6 982.03,2605 987.58,3490.6 993.13,3490.6 998.68,2605 1004.23,2605 1009.78,2605 1015.33,2605 1020.88,3490.6 1026.43,3490.6 1031.98,2605 1037.53,2605 1043.08,2605 1048.62,2605 1054.17,2605 1059.72,3490.6 1065.27,3490.6 1070.82,3490.6 1076.37,3490.6 1081.92,3490.6 1087.47,2605 1093.02,3490.6 1098.57,2605 1104.12,3490.6 1109.67,2605 1115.22,2605 1120.77,3490.6 1126.32,2605 1131.87,2605 1137.42,2605 1142.96,3490.6 1148.51,2605 1154.06,3490.6 1159.61,2605 1165.16,2605 1170.71,2605 1176.26,2605 1181.81,3490.6 1187.36,3490.6 1192.91,2605 1198.46,3490.6 1204.01,2605 1209.56,2605 1215.11,3490.6 1220.66,2605 1226.21,2605 1231.76,3490.6 1237.3,3490.6 1242.85,2605 1248.4,2605 1253.95,2605 1259.5,2605 1265.05,3490.6 1270.6,3490.6 1276.15,2605 1281.7,3490.6 1287.25,3490.6 1292.8,3490.6 1298.35,2605 1303.9,2605 1309.45,3490.6 1315,2605 1320.55,3490.6 1326.1,2605 1331.64,3490.6 1337.19,2605 1342.74,2605 1348.29,2605 1353.84,2605 1359.39,3490.6 1364.94,2605 1370.49,2605 1376.04,2605 1381.59,3490.6 1387.14,3490.6 1392.69,2605 1398.24,3490.6 1403.79,3490.6 1409.34,3490.6 1414.89,2605 1420.44,2605 1425.98,3490.6 1431.53,2605 1437.08,2605 1442.63,2605 1448.18,3490.6 1453.73,3490.6 1459.28,2605 1464.83,3490.6 1470.38,3490.6 1475.93,3490.6 1481.48,2605 1487.03,3490.6 1492.58,3490.6 1498.13,3490.6 1503.68,2605 1509.23,3490.6 1514.78,2605 1520.32,2605 1525.87,3490.6 1531.42,2605 1536.97,2605 1542.52,3490.6 1548.07,2605 1553.62,3490.6 1559.17,2605 1564.72,2605 1570.27,3490.6 1575.82,3490.6 1581.37,2605 1586.92,2605 1592.47,3490.6 1598.02,3490.6 1603.57,3490.6 1609.12,2605 1614.66,3490.6 1620.21,3490.6 1625.76,2605 1631.31,2605 1636.86,3490.6 1642.41,3490.6 1647.96,3490.6 1653.51,3490.6 1659.06,3490.6 1664.61,2605 1670.16,3490.6 1675.71,2605 1681.26,3490.6 1686.81,2605 1692.36,2605 1697.91,2605 1703.46,2605 1709,2605 1714.55,3490.6 1720.1,2605 1725.65,2605 1731.2,3490.6 1736.75,3490.6 1742.3,2605 1747.85,3490.6 1753.4,2605 1758.95,3490.6 1764.5,3490.6 1770.05,2605 1775.6,2605 1781.15,2605 1786.7,2605 1792.25,3490.6 1797.8,3490.6 1803.34,3490.6 1808.89,2605 1814.44,3490.6 1819.99,2605 1825.54,2605 1831.09,3490.6 1836.64,2605 1842.19,3490.6 1847.74,2605 1853.29,3490.6 1858.84,3490.6 1864.39,3490.6 1869.94,3490.6 1875.49,3490.6 1881.04,2605 1886.59,2605 1892.14,3490.6 1897.68,3490.6 1903.23,3490.6 1908.78,2605 1914.33,2605 1919.88,3490.6 1925.43,2605 1930.98,3490.6 1936.53,3490.6 1942.08,3490.6 1947.63,3490.6 1953.18,2605 1958.73,3490.6 1964.28,2605 1969.83,3490.6 1975.38,2605 1980.93,3490.6 1986.48,3490.6 1992.02,2605 1997.57,3490.6 2003.12,2605 2008.67,3490.6 2014.22,3490.6 2019.77,2605 2025.32,2605 2030.87,3490.6 2036.42,3490.6 2041.97,3490.6 2047.52,3490.6 2053.07,2605 2058.62,3490.6 2064.17,3490.6 2069.72,2605 2075.27,3490.6 2080.82,3490.6 2086.36,2605 2091.91,2605 2097.46,3490.6 2103.01,3490.6 2108.56,2605 2114.11,2605 2119.66,3490.6 2125.21,3490.6 2130.76,3490.6 2136.31,3490.6 2141.86,3490.6 2147.41,2605 2152.96,3490.6 2158.51,3490.6 2164.06,3490.6 2169.61,3490.6 2175.16,3490.6 2180.7,3490.6 2186.25,3490.6 2191.8,3490.6 2197.35,3490.6 2202.9,3490.6 2208.45,3490.6 2214,3490.6 2219.55,3490.6 2225.1,3490.6 2230.65,3490.6 2236.2,3490.6 2241.75,3490.6 2247.3,3490.6 2252.85,3490.6 2258.4,3490.6 2263.95,3490.6 2269.5,3490.6 2275.05,3490.6 2280.59,3490.6 2286.14,3490.6 2291.69,3490.6 2297.24,3490.6 2302.79,3490.6 2308.34,3490.6 2313.89,3490.6 2319.44,3490.6 2324.99,3490.6 2330.54,3490.6 2336.09,3490.6 2341.64,3490.6 2347.19,3490.6 2352.74,3490.6 2358.29,3490.6 2363.84,3490.6 2369.39,3490.6 2374.93,3490.6 2380.48,3490.6 2386.03,3490.6 2391.58,3490.6 2397.13,3490.59 2402.68,3490.59 2408.23,3490.59 2413.78,3490.59 2419.33,3490.59 2424.88,3490.59 2430.43,3490.58 2435.98,3490.58 2441.53,3490.57 2447.08,3490.57 2452.63,3490.56 2458.18,3490.56 2463.73,3490.55 2469.27,3490.54 2474.82,3490.53 2480.37,3490.52 2485.92,3490.5 2491.47,3490.49 2497.02,3490.47 2502.57,3490.45 2508.12,3490.43 2513.67,3490.41 2519.22,3490.38 2524.77,3490.36 2530.32,3490.33 2535.87,3490.29 2541.42,3490.26 2546.97,3490.22 2552.52,3490.18 2558.07,3490.14 2563.61,3490.09 2569.16,3490.05 2574.71,3490 2580.26,3489.95 2585.81,3489.9 2591.36,3489.85 2596.91,3489.8 2602.46,3489.74 2608.01,3489.69 2613.56,3489.64 2619.11,3489.6 2624.66,3489.55 2630.21,3489.51 2635.76,3489.47 2641.31,3489.43 2646.86,3489.4 2652.41,3489.37 2657.95,3489.34 2663.5,3489.32 2669.05,3489.31 2674.6,3489.3 2680.15,3489.3 2685.7,3489.3 2691.25,3489.31 2696.8,3489.33 2702.35,3489.34 2707.9,3489.37 2713.45,3489.4 2719,3489.43 2724.55,3489.47 2730.1,3489.51 2735.65,3489.55 2741.2,3489.6 2746.75,3489.65 2752.29,3489.7 2757.84,3489.75 2763.39,3489.8 2768.94,3489.85 2774.49,3489.9 2780.04,3489.95 2785.59,3490 2791.14,3490.05 2796.69,3490.1 2802.24,3490.14 2807.79,3490.18 2813.34,3490.22 2818.89,3490.26 2824.44,3490.29 2829.99,3490.33 2835.54,3490.36 2841.09,3490.39 2846.63,3490.41 2852.18,3490 2857.73,2604.9 2863.28,2605.01 2868.83,2605.13 2874.38,2605.27 2879.93,2605.42 2885.48,2605.57 2891.03,2605.74 2896.58,2605.91 2902.13,2606.09 2907.68,2606.28 2913.23,2606.48 2918.78,2606.71 2924.33,2606.95 2929.88,2607.21 2935.43,2607.47 2940.97,2607.73 2946.52,2608 2952.07,2608.25 2957.62,2608.49 2963.17,2608.74 2968.72,2608.98 2974.27,2609.22 2979.82,2609.46 2985.37,2609.7 2990.92,2609.94 2996.47,2610.18 3002.02,2610.42 3007.57,2610.66 3013.12,2610.91 3018.67,2611.16 3024.22,2611.41 3029.77,2611.65 3035.31,2611.89 3040.86,2612.13 3046.41,2612.36 3051.96,2612.61 3057.51,2612.85 3063.06,2613.12 3068.61,2613.39 3074.16,2613.69 3079.71,2614.01 3085.26,2614.36 3090.81,2614.75 3096.36,2615.16 3101.91,2615.6 3107.46,2616.07 3113.01,2616.55 3118.56,2617.05 3124.11,2617.57 3129.65,2618.1 3135.2,2618.64 3140.75,2619.18 3146.3,2619.73 3151.85,2620.28 3157.4,2620.82 3162.95,2621.36 3168.5,2621.9 3174.05,2622.44 3179.6,2622.99 3185.15,2623.54 3190.7,2624.1 3196.25,2624.66 3201.8,2625.24 3207.35,2625.82 3212.9,2626.41 3218.45,2627.02 3223.99,2627.64 3229.54,2628.27 3235.09,2628.92 3240.64,2629.59 3246.19,2630.27 3251.74,2630.97 3257.29,2631.69 3262.84,2632.41 3268.39,2633.15 3273.94,2633.91 3279.49,2634.68 3285.04,2635.47 3290.59,2636.27 3296.14,2637.1 3301.69,2637.94 3307.24,2638.81 3312.79,2639.7 3318.33,2640.62 3323.88,2641.56 3329.43,2642.52 3334.98,2643.52 3340.53,2644.54 3346.08,2645.59 3351.63,2646.68 3357.18,2647.82 3362.73,2649.01 3368.28,2650.25 3373.83,2651.55 3379.38,2652.89 3384.93,2654.28 3390.48,2655.72 3396.03,2657.21 3401.58,2658.75 3407.13,2660.33 3412.67,2661.96 3418.22,2663.63 3423.77,2665.35 3429.32,2667.16 3434.87,2669.07 3440.42,2671.06 3445.97,2673.13 3451.52,2675.28 3457.07,2677.5 3462.62,2679.8 3468.17,2682.17 3473.72,2684.6 3479.27,2687.1 3484.82,2689.71 3490.37,2692.42 3495.92,2695.24 3501.47,2698.19 3507.01,2701.26 3512.56,2704.47 3518.11,2707.83 3523.66,2711.34 3529.21,2715.06 3534.76,2719 3540.31,2723.16 3545.86,2727.53 3551.41,2732.13 3556.96,2736.96 3562.51,2742.17 3568.06,2747.95 3573.61,2754.11 3579.16,2760.57 3584.71,2767.45 3590.26,2774.86 3595.81,2782.99 3601.35,2791.87 3606.9,2801.24 3612.45,2811.11 3618,2821.6 3623.55,2832.8 3629.1,2844.78 3634.65,2856.29 3640.2,2866.93 3645.75,2877" fill="none" stroke="#1f77b4" stroke-width="6.25" stroke-linejoin="round" stroke-linecap="square"/>
<polyline points="810,3047.75 815.55,3047.33 821.1,3047 826.65,3047.6 832.2,3048.57 837.75,3048.88 843.3,3047.9 848.85,3047.78 854.4,3047.61 859.94,3047.2 865.49,3047.11 871.04,3047.4 876.59,3046.95 882.14,3047.69 887.69,3047.89 893.24,3047.37 898.79,3046.92 904.34,3047.32 909.89,3048.58 915.44,3047.91 920.99,3048.82 926.54,3048.64 932.09,3047.65 937.64,3047.42 943.19,3048.78 948.74,3049.11 954.28,3047.73 959.83,3047.84 965.38,3048.67 970.93,3048.88 976.48,3049.21 982.03,3048.2 987.58,3047.94 993.13,3047.8 998.68,3048.88 1004.23,3047.52 1009.78,3046.43 1015.33,3047.41 1020.88,3048.31 1026.43,3049.1 1031.98,3048.21 1037.53,3048.05 1043.08,3048.72 1048.62,3049.12 1054.17,3048.54 1059.72,3048.76 1065.27,3048.49 1070.82,3047.95 1076.37,3048 1081.92,3047.84 1087.47,3047.7 1093.02,3048.26 1098.57,3047.66 1104.12,3048.65 1109.67,3048.84 1115.22,3047.99 1120.77,3047.46 1126.32,3047.8 1131.87,3048.42 1137.42,3048.64 1142.96,3048.57 1148.51,3048.57 1154.06,3047.93 1159.61,3047.69 1165.16,3047.24 1170.71,3048.18 1176.26,3048.18 1181.81,3048.04 1187.36,3048.8 1192.91,3048.08 1198.46,3046.41 1204.01,3047.1 1209.56,3047.34 1215.11,3048.91 1220.66,3049.69 1226.21,3048.25 1231.76,3047.89 1237.3,3047.95 1242.85,3048.32 1248.4,3048.78 1253.95,3048.75 1259.5,3048.02 1265.05,3048.58 1270.6,3047.84 1276.15,3048.24 1281.7,3048.96 1287.25,3048.51 1292.8,3047.43 1298.35,3047.27 1303.9,3047.56 1309.45,3048.14 1315,3048.45 1320.55,3047.56 1326.1,3048.16 1331.64,3048.63 1337.19,3048.61 1342.74,3048.77 1348.29,3049.19 1353.84,3048.85 1359.39,3048.79 1364.94,3048.96 1370.49,3048.86 1376.04,3047.51 1381.59,3048.36 1387.14,3048.08 1392.69,3047.58 1398.24,3046.95 1403.79,3046.56 1409.34,3047.23 1414.89,3047.62 1420.44,3047.87 1425.98,3047.53 1431.53,3048.67 1437.08,3048.46 1442.63,3047.78 1448.18,3047.36 1453.73,3047.14 1459.28,3047.03 1464.83,3047.45 1470.38,3047.88 1475.93,3047.62 1481.48,3047.05 1487.03,3047.37 1492.58,3047.46 1498.13,3048.35 1503.68,3049.38 1509.23,3048.78 1514.78,3047.63 1520.32,3046.65 1525.87,3046.43 1531.42,3046.84 1536.97,3047.96 1542.52,3047.74 1548.07,3047.78 1553.62,3047.69 1559.17,3048.28 1564.72,3048.8 1570.27,3047.85 1575.82,3047.51 1581.37,3047.66 1586.92,3048.2 1592.47,3047.36 1598.02,3046.82 1603.57,3046.63 1609.12,3046.97 1614.66,3048.61 1620.21,3049.56 1625.76,3048.21 1631.31,3048.5 1636.86,3048.19 1642.41,3047.37 1647.96,3047.6 1653.51,3047.71 1659.06,3048.01 1664.61,3048.71 1670.16,3047.38 1675.71,3047.96 1681.26,3048.24 1686.81,3047.81 1692.36,3048.23 1697.91,3048.69 1703.46,3048.46 1709,3048.52 1714.55,3048.16 1720.1,3047.28 1725.65,3049.06 1731.2,3050.05 1736.75,3049.42 1742.3,3048.63 1747.85,3047.4 1753.4,3047.52 1758.95,3047.42 1764.5,3047.75 1770.05,3048.39 1775.6,3047.77 1781.15,3047.41 1786.7,3046.83 1792.25,3047.6 1797.8,3047.96 1803.34,3047.52 1808.89,3047.91 1814.44,3048.86 1819.99,3047.52 1825.54,3047 1831.09,3047.63 1836.64,3049.14 1842.19,3049.76 1847.74,3048.62 1853.29,3047.64 1858.84,3047.92 1864.39,3048.48 1869.94,3048.09 1875.49,3049.14 1881.04,3049.34 1886.59,3048.61 1892.14,3048.7 1897.68,3049.07 1903.23,3049.03 1908.78,3048.06 1914.33,3048.55 1919.88,3047.98 1925.43,3047.59 1930.98,3047.98 1936.53,3047.8 1942.08,3047.11 1947.63,3046.71 1953.18,3047.51 1958.73,3049.27 1964.28,3049.83 1969.83,3049.24 1975.38,3048.91 1980.93,3048.06 1986.48,3048.04 1992.02,3048.07 1997.57,3047.31 2003.12,3047.31 2008.67,3047.92 2014.22,3047.74 2019.77,3047.5 2025.32,3048.11 2030.87,3048.3 2036.42,3048.74 2041.97,3048.32 2047.52,3048 2053.07,3048.14 2058.62,3047.94 2064.17,3047.62 2069.72,3047.94 2075.27,3048.7 2080.82,3049.03 2086.36,3048.75 2091.91,3047.31 2097.46,3047.47 2103.01,3047.87 2108.56,3048.1 2114.11,3047.83 2119.66,3047.94 2125.21,3048.61 2130.76,3048.22 2136.31,3047.79 2141.86,3048.99 2147.41,3048.99 2152.96,3048.24 2158.51,3048.43 2164.06,3048.17 2169.61,3048.7 2175.16,3048.14 2180.7,3047.58 2186.25,3047.63 2191.8,3047.69 2197.35,3048.21 2202.9,3048.38 2208.45,3048.16 2214,3047.08 2219.55,3045.82 2225.1,3047.06 2230.65,3047.11 2236.2,3048.21 2241.75,3049.05 2247.3,3048.57 2252.85,3048.01 2258.4,3048.01 2263.95,3048 2269.5,3047.74 2275.05,3047.56 2280.59,3047.8 2286.14,3048.79 2291.69,3048.71 2297.24,3048.8 2302.79,3048.26 2308.34,3048.26 2313.89,3048.26 2319.44,3048.26 2324.99,3048.27 2330.54,3048.27 2336.09,3048.27 2341.64,3048.27 2347.19,3048.28 2352.74,3048.28 2358.29,3048.28 2363.84,3048.28 2369.39,3048.29 2374.93,3048.29 2380.48,3048.29 2386.03,3048.29 2391.58,3048.3 2397.13,3048.3 2402.68,3048.3 2408.23,3048.31 2413.78,3048.31 2419.33,3048.32 2424.88,3048.33 2430.43,3048.34 2435.98,3048.35 2441.53,3048.36 2447.08,3048.37 2452.63,3048.39 2458.18,3048.4 2463.73,3048.42 2469.27,3048.44 2474.82,3048.45 2480.37,3048.47 2485.92,3048.49 2491.47,3048.51 2497.02,3048.54 2502.57,3048.56 2508.12,3048.58 2513.67,3048.6 2519.22,3048.63 2524.77,3048.65 2530.32,3048.68 2535.87,3048.7 2541.42,3048.73 2546.97,3048.75 2552.52,3048.78 2558.07,3048.8 2563.61,3048.83 2569.16,3048.86 2574.71,3048.88 2580.26,3048.91 2585.81,3048.93 2591.36,3048.96 2596.91,3048.99 2602.46,3049.01 2608.01,3049.04 2613.56,3049.06 2619.11,3049.08 2624.66,3049.11 2630.21,3049.13 2635.76,3049.16 2641.31,3049.18 2646.86,3049.2 2652.41,3049.23 2657.95,3049.25 2663.5,3049.28 2669.05,3049.3 2674.6,3049.33 2680.15,3049.36 2685.7,3049.39 2691.25,3049.41 2696.8,3049.44 2702.35,3049.48 2707.9,3049.51 2713.45,3049.54 2719,3049.58 2724.55,3049.61 2730.1,3049.65 2735.65,3049.69 2741.2,3049.73 2746.75,3049.77 2752.29,3049.82 2757.84,3049.87 2763.39,3049.92 2768.94,3049.97 2774.49,3050.02 2780.04,3050.08 2785.59,3050.14 2791.14,3050.2 2796.69,3050.26 2802.24,3050.33 2807.79,3050.42 2813.34,3050.54 2818.89,3050.68 2824.44,3050.84 2829.99,3051.02 2835.54,3051.2 2841.09,3051.4 2846.63,3051.59 2852.18,3051.79 2857.73,3051.99 2863.28,3052.19 2868.83,3052.39 2874.38,3052.6 2879.93,3052.82 2885.48,3053.04 2891.03,3053.27 2896.58,3053.51 2902.13,3053.75 2907.68,3054 2913.23,3054.26 2918.78,3054.52 2924.33,3054.79 2929.88,3055.07 2935.43,3055.35 2940.97,3055.64 2946.52,3055.94 2952.07,3056.24 2957.62,3056.55 2963.17,3056.86 2968.72,3057.19 2974.27,3057.52 2979.82,3057.87 2985.37,3058.22 2990.92,3058.58 2996.47,3058.95 3002.02,3059.33 3007.57,3059.71 3013.12,3060.11 3018.67,3060.51 3024.22,3060.92 3029.77,3061.34 3035.31,3061.77 3040.86,3062.21 3046.41,3062.66 3051.96,3063.11 3057.51,3063.58 3063.06,3064.05 3068.61,3064.53 3074.16,3065.02 3079.71,3065.52 3085.26,3066.03 3090.81,3066.57 3096.36,3067.12 3101.91,3067.69 3107.46,3068.28 3113.01,3068.89 3118.56,3069.52 3124.11,3070.16 3129.65,3070.82 3135.2,3071.5 3140.75,3072.19 3146.3,3072.89 3151.85,3073.61 3157.4,3074.34 3162.95,3075.09 3168.5,3075.85 3174.05,3076.63 3179.6,3077.44 3185.15,3078.26 3190.7,3079.11 3196.25,3079.97 3201.8,3080.86 3207.35,3081.76 3212.9,3082.69 3218.45,3083.64 3223.99,3084.61 3229.54,3085.59 3235.09,3086.6 3240.64,3087.63 3246.19,3088.67 3251.74,3089.74 3257.29,3090.84 3262.84,3091.98 3268.39,3093.15 3273.94,3094.36 3279.49,3095.6 3285.04,3096.87 3290.59,3098.16 3296.14,3099.48 3301.69,3100.82 3307.24,3102.18 3312.79,3103.55 3318.33,3104.94 3323.88,3106.34 3329.43,3107.76 3334.98,3109.19 3340.53,3110.67 3346.08,3112.24 3351.63,3113.9 3357.18,3115.65 3362.73,3117.48 3368.28,3119.38 3373.83,3121.33 3379.38,3123.33 3384.93,3125.37 3390.48,3127.44 3396.03,3129.58 3401.58,3131.77 3407.13,3134.03 3412.67,3136.35 3418.22,3138.73 3423.77,3141.17 3429.32,3143.71 3434.87,3146.34 3440.42,3149.05 3445.97,3151.86 3451.52,3154.74 3457.07,3157.71 3462.62,3160.77 3468.17,3163.93 3473.72,3167.19 3479.27,3170.56 3484.82,3174.04 3490.37,3177.67 3495.92,3181.47 3501.47,3185.5 3507.01,3189.92 3512.56,3194.65 3518.11,3199.42 3523.66,3203.96 3529.21,3208.31 3534.76,3212.81 3540.31,3217.8 3545.86,3223.55 3551.41,3229.89 3556.96,3236.54 3562.51,3243.31 3568.06,3250.34 3573.61,3257.73 3579.16,3265.6 3584.71,3274.15 3590.26,3283.22 3595.81,3292.74 3601.35,3302.76 3606.9,3313.21 3612.45,3324.14 3618,3335.58 3623.55,3347.48 3629.1,3359.93 3634.65,3373.31 3640.2,3387.83 3645.75,3403.4" fill="none" stroke="#ff7f0e" stroke-width="6.25" stroke-linejoin="round" stroke-linecap="square"/>
<polyline points="810,3047.79 815.55,3047.91 821.1,3048.06 826.65,3048.49 832.2,3047.97 837.75,3048.05 843.3,3047.67 848.85,3048.09 854.4,3047.64 859.94,3046.79 865.49,3047.41 871.04,3047.44 876.59,3047.87 882.14,3048.46 887.69,3047.56 893.24,3047.56 898.79,3048.51 904.34,3048.53 909.89,3048.78 915.44,3048.26 920.99,3047.64 926.54,3048.03 932.09,3048.71 937.64,3048.63 943.19,3048.16 948.74,3048.01 954.28,3047.86 959.83,3048.03 965.38,3048.8 970.93,3048.13 976.48,3047.4 982.03,3047.72 987.58,3048.36 993.13,3048.39 998.68,3047.93 1004.23,3047.68 1009.78,3047.64 1015.33,3047.02 1020.88,3047.26 1026.43,3048.08 1031.98,3047.97 1037.53,3048.29 1043.08,3048.73 1048.62,3048.5 1054.17,3048.46 1059.72,3049.09 1065.27,3048.6 1070.82,3048.07 1076.37,3048.35 1081.92,3048.17 1087.47,3047.69 1093.02,3047.87 1098.57,3047.62 1104.12,3047.04 1109.67,3047.56 1115.22,3047.78 1120.77,3047.49 1126.32,3047.12 1131.87,3047.57 1137.42,3047.95 1142.96,3047.86 1148.51,3047.6 1154.06,3047.92 1159.61,3047.51 1165.16,3047.92 1170.71,3048.46 1176.26,3047.82 1181.81,3047.83 1187.36,3048.36 1192.91,3047.96 1198.46,3047.84 1204.01,3048.23 1209.56,3048.17 1215.11,3047.03 1220.66,3047.11 1226.21,3047.24 1231.76,3047.21 1237.3,3047.31 1242.85,3047.53 1248.4,3047.87 1253.95,3047.67 1259.5,3047.99 1265.05,3048.1 1270.6,3047.76 1276.15,3048.22 1281.7,3048.84 1287.25,3048.32 1292.8,3047.76 1298.35,3047.73 1303.9,3047.63 1309.45,3048.13 1315,3048.32 1320.55,3047.74 1326.1,3047.96 1331.64,3048.41 1337.19,3048 1342.74,3047.86 1348.29,3047.45 1353.84,3047.39 1359.39,3047.99 1364.94,3048.85 1370.49,3048.09 1376.04,3047.63 1381.59,3047.66 1387.14,3047.96 1392.69,3048.32 1398.24,3048.53 1403.79,3049 1409.34,3048.66 1414.89,3048.75 1420.44,3048.47 1425.98,3048.11 1431.53,3047.45 1437.08,3047.73 1442.63,3047.93 1448.18,3047.56 1453.73,3047.16 1459.28,3048.02 1464.83,3047.92 1470.38,3047.73 1475.93,3047.81 1481.48,3047.95 1487.03,3047.97 1492.58,3047.37 1498.13,3047.46 1503.68,3048.03 1509.23,3048.08 1514.78,3047.79 1520.32,3047.58 1525.87,3047.56 1531.42,3048.06 1536.97,3048.38 1542.52,3047.98 1548.07,3048.68 1553.62,3048.58 1559.17,3048.08 1564.72,3048.08 1570.27,3047.23 1575.82,3046.83 1581.37,3047.12 1586.92,3047.6 1592.47,3047.74 1598.02,3047.77 1603.57,3047.67 1609.12,3047.17 1614.66,3047.7 1620.21,3047.38 1625.76,3047.46 1631.31,3047.57 1636.86,3047.24 1642.41,3047.09 1647.96,3047.37 1653.51,3047.97 1659.06,3048.39 1664.61,3048.23 1670.16,3047.56 1675.71,3047.39 1681.26,3047.58 1686.81,3047.78 1692.36,3047.4 1697.91,3048.21 1703.46,3047.9 1709,3047.68 1714.55,3048.24 1720.1,3048.62 1725.65,3048.53 1731.2,3048.6 1736.75,3048.47 1742.3,3048.82 1747.85,3048.79 1753.4,3048.43 1758.95,3048.71 1764.5,3048.37 1770.05,3047.98 1775.6,3047.61 1781.15,3047.91 1786.7,3048.16 1792.25,3047.7 1797.8,3048.2 1803.34,3048.36 1808.89,3047.9 1814.44,3047.1 1819.99,3047.77 1825.54,3048.22 1831.09,3047.84 1836.64,3047.62 1842.19,3047.12 1847.74,3047.89 1853.29,3048.02 1858.84,3048.07 1864.39,3047.49 1869.94,3048.06 1875.49,3048.2 1881.04,3048.25 1886.59,3047.69 1892.14,3048.01 1897.68,3048.86 1903.23,3047.95 1908.78,3047.59 1914.33,3047.69 1919.88,3047.77 1925.43,3048.73 1930.98,3048.93 1936.53,3047.77 1942.08,3047.39 1947.63,3048.52 1953.18,3048.9 1958.73,3048.81 1964.28,3048.6 1969.83,3047.86 1975.38,3047.66 1980.93,3047.22 1986.48,3047.4 1992.02,3048.21 1997.57,3048.31 2003.12,3049.03 2008.67,3048.39 2014.22,3047.95 2019.77,3048.64 2025.32,3049.11 2030.87,3048.41 2036.42,3047.69 2041.97,3048.3 2047.52,3048.7 2053.07,3047.98 2058.62,3047.84 2064.17,3048.47 2069.72,3048.16 2075.27,3047.58 2080.82,3047.65 2086.36,3047.76 2091.91,3048.15 2097.46,3048.39 2103.01,3048.76 2108.56,3048.37 2114.11,3047.6 2119.66,3048.2 2125.21,3048.66 2130.76,3048.63 2136.31,3048.57 2141.86,3047.89 2147.41,3047.76 2152.96,3048.23 2158.51,3047.46 2164.06,3047.16 2169.61,3048.14 2175.16,3047.92 2180.7,3047.67 2186.25,3047.26 2191.8,3047.15 2197.35,3047.36 2202.9,3047.86 2208.45,3047.89 2214,3047.29 2219.55,3047.94 2225.1,3047.57 2230.65,3047.59 2236.2,3048.28 2241.75,3047.99 2247.3,3047.74 2252.85,3048.61 2258.4,3048.1 2263.95,3048.17 2269.5,3048.51 2275.05,3048.76 2280.59,3048.34 2286.14,3048.43 2291.69,3048.17 2297.24,3048.44 2302.79,3048.17 2308.34,3048.17 2313.89,3048.17 2319.44,3048.18 2324.99,3048.18 2330.54,3048.18 2336.09,3048.18 2341.64,3048.18 2347.19,3048.18 2352.74,3048.19 2358.29,3048.19 2363.84,3048.19 2369.39,3048.19 2374.93,3048.19 2380.48,3048.19 2386.03,3048.2 2391.58,3048.2 2397.13,3048.2 2402.68,3048.2 2408.23,3048.2 2413.78,3048.21 2419.33,3048.21 2424.88,3048.22 2430.43,3048.23 2435.98,3048.24 2441.53,3048.25 2447.08,3048.26 2452.63,3048.27 2458.18,3048.29 2463.73,3048.3 2469.27,3048.32 2474.82,3048.33 2480.37,3048.35 2485.92,3048.37 2491.47,3048.39 2497.02,3048.4 2502.57,3048.42 2508.12,3048.44 2513.67,3048.46 2519.22,3048.48 2524.77,3048.5 2530.32,3048.53 2535.87,3048.55 2541.42,3048.57 2546.97,3048.59 2552.52,3048.61 2558.07,3048.64 2563.61,3048.66 2569.16,3048.68 2574.71,3048.7 2580.26,3048.72 2585.81,3048.75 2591.36,3048.77 2596.91,3048.79 2602.46,3048.81 2608.01,3048.83 2613.56,3048.85 2619.11,3048.87 2624.66,3048.89 2630.21,3048.91 2635.76,3048.92 2641.31,3048.94 2646.86,3048.96 2652.41,3048.98 2657.95,3049 2663.5,3049.02 2669.05,3049.03 2674.6,3049.05 2680.15,3049.07 2685.7,3049.09 2691.25,3049.12 2696.8,3049.14 2702.35,3049.16 2707.9,3049.18 2713.45,3049.21 2719,3049.24 2724.55,3049.26 2730.1,3049.29 2735.65,3049.32 2741.2,3049.35 2746.75,3049.39 2752.29,3049.42 2757.84,3049.46 2763.39,3049.5 2768.94,3049.54 2774.49,3049.58 2780.04,3049.62 2785.59,3049.67 2791.14,3049.72 2796.69,3049.77 2802.24,3049.82 2807.79,3049.91 2813.34,3050.01 2818.89,3050.14 2824.44,3050.3 2829.99,3050.46 2835.54,3050.64 2841.09,3050.82 2846.63,3051.01 2852.18,3051.2 2857.73,3051.39 2863.28,3051.58 2868.83,3051.77 2874.38,3051.97 2879.93,3052.18 2885.48,3052.39 2891.03,3052.61 2896.58,3052.84 2902.13,3053.07 2907.68,3053.31 2913.23,3053.55 2918.78,3053.8 2924.33,3054.06 2929.88,3054.32 2935.43,3054.59 2940.97,3054.87 2946.52,3055.15 2952.07,3055.44 2957.62,3055.74 2963.17,3056.04 2968.72,3056.35 2974.27,3056.67 2979.82,3057 2985.37,3057.34 2990.92,3057.69 2996.47,3058.04 3002.02,3058.41 3007.57,3058.78 3013.12,3059.16 3018.67,3059.55 3024.22,3059.94 3029.77,3060.35 3035.31,3060.76 3040.86,3061.18 3046.41,3061.6 3051.96,3062.04 3057.51,3062.48 3063.06,3062.93 3068.61,3063.38 3074.16,3063.85 3079.71,3064.32 3085.26,3064.8 3090.81,3065.31 3096.36,3065.83 3101.91,3066.37 3107.46,3066.93 3113.01,3067.5 3118.56,3068.09 3124.11,3068.69 3129.65,3069.3 3135.2,3069.93 3140.75,3070.56 3146.3,3071.21 3151.85,3071.86 3157.4,3072.51 3162.95,3073.18 3168.5,3073.85 3174.05,3074.52 3179.6,3075.21 3185.15,3075.9 3190.7,3076.61 3196.25,3077.32 3201.8,3078.05 3207.35,3078.8 3212.9,3079.56 3218.45,3080.34 3223.99,3081.14 3229.54,3081.97 3235.09,3082.81 3240.64,3083.68 3246.19,3084.57 3251.74,3085.49 3257.29,3086.45 3262.84,3087.45 3268.39,3088.49 3273.94,3089.57 3279.49,3090.68 3285.04,3091.81 3290.59,3092.98 3296.14,3094.18 3301.69,3095.4 3307.24,3096.64 3312.79,3097.9 3318.33,3099.17 3323.88,3100.46 3329.43,3101.77 3334.98,3103.1 3340.53,3104.5 3346.08,3105.98 3351.63,3107.56 3357.18,3109.25 3362.73,3111.02 3368.28,3112.86 3373.83,3114.75 3379.38,3116.68 3384.93,3118.61 3390.48,3120.55 3396.03,3122.5 3401.58,3124.47 3407.13,3126.5 3412.67,3128.6 3418.22,3130.78 3423.77,3133.07 3429.32,3135.5 3434.87,3138.03 3440.42,3140.64 3445.97,3143.29 3451.52,3145.99 3457.07,3148.73 3462.62,3151.56 3468.17,3154.49 3473.72,3157.53 3479.27,3160.72 3484.82,3164.03 3490.37,3167.5 3495.92,3171.14 3501.47,3174.97 3507.01,3179.12 3512.56,3183.54 3518.11,3188.07 3523.66,3192.54 3529.21,3197 3534.76,3201.62 3540.31,3206.59 3545.86,3212.06 3551.41,3217.94 3556.96,3224.12 3562.51,3230.56 3568.06,3237.33 3573.61,3244.38 3579.16,3251.64 3584.71,3259.07 3590.26,3267.19 3595.81,3276.65 3601.35,3287.2 3606.9,3297.9 3612.45,3308.48 3618,3319.52 3623.55,3331.49 3629.1,3344.4 3634.65,3358.2 3640.2,3373.09 3645.75,3389" fill="none" stroke="#2ca02c" stroke-width="6.25" stroke-linejoin="round" stroke-linecap="square"/>
</g>
<path d="M810.5 3535.5v-14.58M1377.5 3535.5v-14.58M1944.5 3535.5v-14.58M2511.5 3535.5v-14.58M3079.5 3535.5v-14.58M3646.5 3535.5v-14.58M668.5 3491.5h14.58M668.5 3269.5h14.58M668.5 3048.5h14.58M668.5 2827.5h14.58M668.5 2605.5h14.58" stroke="#000" stroke-width="3.33" fill="none"/>
<path d="M684.5 3535.5v-8.33M722.5 3535.5v-8.33M755.5 3535.5v-8.33M784.5 3535.5v-8.33M981.5 3535.5v-8.33M1081.5 3535.5v-8.33M1151.5 3535.5v-8.33M1206.5 3535.5v-8.33M1251.5 3535.5v-8.33M1289.5 3535.5v-8.33M1322.5 3535.5v-8.33M1351.5 3535.5v-8.33M1548.5 3535.5v-8.33M1648.5 3535.5v-8.33M1719.5 3535.5v-8.33M1774.5 3535.5v-8.33M1818.5 3535.5v-8.33M1856.5 3535.5v-8.33M1889.5 3535.5v-8.33M1918.5 3535.5v-8.33M2115.5 3535.5v-8.33M2215.5 3535.5v-8.33M2286.5 3535.5v-8.33M2341.5 3535.5v-8.33M2386.5 3535.5v-8.33M2424.5 3535.5v-8.33M2456.5 3535.5v-8.33M2485.5 3535.5v-8.33M2682.5 3535.5v-8.33M2782.5 3535.5v-8.33M2853.5 3535.5v-8.33M2908.5 3535.5v-8.33M2953.5 3535.5v-8.33M2991.5 3535.5v-8.33M3024.5 3535.5v-8.33M3053.5 3535.5v-8.33M3249.5 3535.5v-8.33M3349.5 3535.5v-8.33M3420.5 3535.5v-8.33M3475.5 3535.5v-8.33M3520.5 3535.5v-8.33M3558.5 3535.5v-8.33M3591.5 3535.5v-8.33M3620.5 3535.5v-8.33" stroke="#000" stroke-width="2.5" fill="none"/>
<rect x="668.5" y="2561.5" width="3119.0" height="974.0" fill="none" stroke="#000" stroke-width="3.33" stroke-linejoin="miter"/>
<path transform="translate(722.09 2425.9) scale(104.17)" d="M0.2615 0.0000L0.3480 0.0000L0.3480 -0.7080L0.2924 -0.7080L0.2849 -0.6792L0.2750 -0.6469L0.2625 -0.6246L0.2451 -0.6057L0.2228 -0.5908L0.1930 -0.5798L0.1483 -0.5689L0.1045 -0.5625L0.1045 -0.5013L0.2615 -0.5013Z"/>
<text transform="translate(780.03 2425.9) scale(1 1.02)" font-size="104.17" text-anchor="start" xml:space="preserve">0</text>
<path transform="translate(837.96 2389.9) scale(72.92)" d="M0.2615 0.0000L0.3480 0.0000L0.3480 -0.7080L0.2924 -0.7080L0.2849 -0.6792L0.2750 -0.6469L0.2625 -0.6246L0.2451 -0.6057L0.2228 -0.5908L0.1930 -0.5798L0.1483 -0.5689L0.1045 -0.5625L0.1045 -0.5013L0.2615 -0.5013Z"/>
<path transform="translate(1289.24 2425.9) scale(104.17)" d="M0.2615 0.0000L0.3480 0.0000L0.3480 -0.7080L0.2924 -0.7080L0.2849 -0.6792L0.2750 -0.6469L0.2625 -0.6246L0.2451 -0.6057L0.2228 -0.5908L0.1930 -0.5798L0.1483 -0.5689L0.1045 -0.5625L0.1045 -0.5013L0.2615 -0.5013Z"/>
<text transform="translate(1347.18 2425.9) scale(1 1.02)" font-size="104.17" text-anchor="start" xml:space="preserve">0</text>
<text transform="translate(1405.11 2389.9) scale(1 1.02)" font-size="72.92" text-anchor="start" xml:space="preserve">2</text>
<path transform="translate(1856.39 2425.9) scale(104.17)" d="M0.2615 0.0000L0.3480 0.0000L0.3480 -0.7080L0.2924 -0.7080L0.2849 -0.6792L0.2750 -0.6469L0.2625 -0.6246L0.2451 -0.6057L0.2228 -0.5908L0.1930 -0.5798L0.1483 -0.5689L0.1045 -0.5625L0.1045 -0.5013L0.2615 -0.5013Z"/>
<text transform="translate(1914.33 2425.9) scale(1 1.02)" font-size="104.17" text-anchor="start" xml:space="preserve">0</text>
<text transform="translate(1972.26 2389.9) scale(1 1.02)" font-size="72.92" text-anchor="start" xml:space="preserve">3</text>
<path transform="translate(2423.54 2425.9) scale(104.17)" d="M0.2615 0.0000L0.3480 0.0000L0.3480 -0.7080L0.2924 -0.7080L0.2849 -0.6792L0.2750 -0.6469L0.2625 -0.6246L0.2451 -0.6057L0.2228 -0.5908L0.1930 -0.5798L0.1483 -0.5689L0.1045 -0.5625L0.1045 -0.5013L0.2615 -0.5013Z"/>
<text transform="translate(2481.48 2425.9) scale(1 1.02)" font-size="104.17" text-anchor="start" xml:space="preserve">0</text>
<text transform="translate(2539.41 2389.9) scale(1 1.02)" font-size="72.92" text-anchor="start" xml:space="preserve">4</text>
<path transform="translate(2990.69 2425.9) scale(104.17)" d="M0.2615 0.0000L0.3480 0.0000L0.3480 -0.7080L0.2924 -0.7080L0.2849 -0.6792L0.2750 -0.6469L0.2625 -0.6246L0.2451 -0.6057L0.2228 -0.5908L0.1930 -0.5798L0.1483 -0.5689L0.1045 -0.5625L0.1045 -0.5013L0.2615 -0.5013Z"/>
<text transform="translate(3048.63 2425.9) scale(1 1.02)" font-size="104.17" text-anchor="start" xml:space="preserve">0</text>
<text transform="translate(3106.56 2389.9) scale(1 1.02)" font-size="72.92" text-anchor="start" xml:space="preserve">5</text>
<path transform="translate(3557.84 2425.9) scale(104.17)" d="M0.2615 0.0000L0.3480 0.0000L0.3480 -0.7080L0.2924 -0.7080L0.2849 -0.6792L0.2750 -0.6469L0.2625 -0.6246L0.2451 -0.6057L0.2228 -0.5908L0.1930 -0.5798L0.1483 -0.5689L0.1045 -0.5625L0.1045 -0.5013L0.2615 -0.5013Z"/>
<text transform="translate(3615.78 2425.9) scale(1 1.02)" font-size="104.17" text-anchor="start" xml:space="preserve">0</text>
<text transform="translate(3673.71 2389.9) scale(1 1.02)" font-size="72.92" text-anchor="start" xml:space="preserve">6</text>
<path transform="translate(722.09 3650.6) scale(104.17)" d="M0.2615 0.0000L0.3480 0.0000L0.3480 -0.7080L0.2924 -0.7080L0.2849 -0.6792L0.2750 -0.6469L0.2625 -0.6246L0.2451 -0.6057L0.2228 -0.5908L0.1930 -0.5798L0.1483 -0.5689L0.1045 -0.5625L0.1045 -0.5013L0.2615 -0.5013Z"/>
<text transform="translate(780.03 3650.6) scale(1 1.02)" font-size="104.17" text-anchor="start" xml:space="preserve">0</text>
<path transform="translate(837.96 3614.6) scale(72.92)" d="M0.2615 0.0000L0.3480 0.0000L0.3480 -0.7080L0.2924 -0.7080L0.2849 -0.6792L0.2750 -0.6469L0.2625 -0.6246L0.2451 -0.6057L0.2228 -0.5908L0.1930 -0.5798L0.1483 -0.5689L0.1045 -0.5625L0.1045 -0.5013L0.2615 -0.5013Z"/>
<path transform="translate(1289.24 3650.6) scale(104.17)" d="M0.2615 0.0000L0.3480 0.0000L0.3480 -0.7080L0.2924 -0.7080L0.2849 -0.6792L0.2750 -0.6469L0.2625 -0.6246L0.2451 -0.6057L0.2228 -0.5908L0.1930 -0.5798L0.1483 -0.5689L0.1045 -0.5625L0.1045 -0.5013L0.2615 -0.5013Z"/>
<text transform="translate(1347.18 3650.6) scale(1 1.02)" font-size="104.17" text-anchor="start" xml:space="preserve">0</text>
<text transform="translate(1405.11 3614.6) scale(1 1.02)" font-size="72.92" text-anchor="start" xml:space="preserve">2</text>
<path transform="translate(1856.39 3650.6) scale(104.17)" d="M0.2615 0.0000L0.3480 0.0000L0.3480 -0.7080L0.2924 -0.7080L0.2849 -0.6792L0.2750 -0.6469L0.2625 -0.6246L0.2451 -0.6057L0.2228 -0.5908L0.1930 -0.5798L0.1483 -0.5689L0.1045 -0.5625L0.1045 -0.5013L0.2615 -0.5013Z"/>
<text transform="translate(1914.33 3650.6) scale(1 1.02)" font-size="104.17" text-anchor="start" xml:space="preserve">0</text>
<text transform="translate(1972.26 3614.6) scale(1 1.02)" font-size="72.92" text-anchor="start" xml:space="preserve">3</text>
<path transform="translate(2423.54 3650.6) scale(104.17)" d="M0.2615 0.0000L0.3480 0.0000L0.3480 -0.7080L0.2924 -0.7080L0.2849 -0.6792L0.2750 -0.6469L0.2625 -0.6246L0.2451 -0.6057L0.2228 -0.5908L0.1930 -0.5798L0.1483 -0.5689L0.1045 -0.5625L0.1045 -0.5013L0.2615 -0.5013Z"/>
<text transform="translate(2481.48 3650.6) scale(1 1.02)" font-size="104.17" text-anchor="start" xml:space="preserve">0</text>
<text transform="translate(2539.41 3614.6) scale(1 1.02)" font-size="72.92" text-anchor="start" xml:space="preserve">4</text>
<path transform="translate(2990.69 3650.6) scale(104.17)" d="M0.2615 0.0000L0.3480 0.0000L0.3480 -0.7080L0.2924 -0.7080L0.2849 -0.6792L0.2750 -0.6469L0.2625 -0.6246L0.2451 -0.6057L0.2228 -0.5908L0.1930 -0.5798L0.1483 -0.5689L0.1045 -0.5625L0.1045 -0.5013L0.2615 -0.5013Z"/>
<text transform="translate(3048.63 3650.6) scale(1 1.02)" font-size="104.17" text-anchor="start" xml:space="preserve">0</text>
<text transform="translate(3106.56 3614.6) scale(1 1.02)" font-size="72.92" text-anchor="start" xml:space="preserve">5</text>
<path transform="translate(3557.84 3650.6) scale(104.17)" d="M0.2615 0.0000L0.3480 0.0000L0.3480 -0.7080L0.2924 -0.7080L0.2849 -0.6792L0.2750 -0.6469L0.2625 -0.6246L0.2451 -0.6057L0.2228 -0.5908L0.1930 -0.5798L0.1483 -0.5689L0.1045 -0.5625L0.1045 -0.5013L0.2615 -0.5013Z"/>
<text transform="translate(3615.78 3650.6) scale(1 1.02)" font-size="104.17" text-anchor="start" xml:space="preserve">0</text>
<text transform="translate(3673.71 3614.6) scale(1 1.02)" font-size="72.92" text-anchor="start" xml:space="preserve">6</text>
<path transform="translate(487.89 2203) scale(104.17)" d="M0.2615 0.0000L0.3480 0.0000L0.3480 -0.7080L0.2924 -0.7080L0.2849 -0.6792L0.2750 -0.6469L0.2625 -0.6246L0.2451 -0.6057L0.2228 -0.5908L0.1930 -0.5798L0.1483 -0.5689L0.1045 -0.5625L0.1045 -0.5013L0.2615 -0.5013Z"/>
<text transform="translate(545.83 2203) scale(1 1.02)" font-size="104.17" text-anchor="start" xml:space="preserve">0</text>
<text transform="translate(603.76 2167) scale(1 1.02)" font-size="72.92" text-anchor="start" xml:space="preserve">0</text>
<path transform="translate(487.89 1735.5) scale(104.17)" d="M0.2615 0.0000L0.3480 0.0000L0.3480 -0.7080L0.2924 -0.7080L0.2849 -0.6792L0.2750 -0.6469L0.2625 -0.6246L0.2451 -0.6057L0.2228 -0.5908L0.1930 -0.5798L0.1483 -0.5689L0.1045 -0.5625L0.1045 -0.5013L0.2615 -0.5013Z"/>
<text transform="translate(545.83 1735.5) scale(1 1.02)" font-size="104.17" text-anchor="start" xml:space="preserve">0</text>
<text transform="translate(603.76 1699.5) scale(1 1.02)" font-size="72.92" text-anchor="start" xml:space="preserve">0</text>
<path d="M401.29 1686.5L447.29 1732.5M401.29 1732.5L447.29 1686.5" stroke="#000" stroke-width="4.2" stroke-linecap="round" fill="none"/>
<path transform="translate(215.88 1735.5) scale(104.17)" d="M0.2615 0.0000L0.3480 0.0000L0.3480 -0.7080L0.2924 -0.7080L0.2849 -0.6792L0.2750 -0.6469L0.2625 -0.6246L0.2451 -0.6057L0.2228 -0.5908L0.1930 -0.5798L0.1483 -0.5689L0.1045 -0.5625L0.1045 -0.5013L0.2615 -0.5013Z"/>
<text transform="translate(273.82 1735.5) scale(1 1.02)" font-size="104.17" text-anchor="start" xml:space="preserve">.2</text>
<path transform="translate(487.89 1332.74) scale(104.17)" d="M0.2615 0.0000L0.3480 0.0000L0.3480 -0.7080L0.2924 -0.7080L0.2849 -0.6792L0.2750 -0.6469L0.2625 -0.6246L0.2451 -0.6057L0.2228 -0.5908L0.1930 -0.5798L0.1483 -0.5689L0.1045 -0.5625L0.1045 -0.5013L0.2615 -0.5013Z"/>
<text transform="translate(545.83 1332.74) scale(1 1.02)" font-size="104.17" text-anchor="start" xml:space="preserve">0</text>
<text transform="translate(603.76 1296.74) scale(1 1.02)" font-size="72.92" text-anchor="start" xml:space="preserve">0</text>
<path d="M401.29 1283.74L447.29 1329.74M401.29 1329.74L447.29 1283.74" stroke="#000" stroke-width="4.2" stroke-linecap="round" fill="none"/>
<path transform="translate(215.88 1332.74) scale(104.17)" d="M0.2615 0.0000L0.3480 0.0000L0.3480 -0.7080L0.2924 -0.7080L0.2849 -0.6792L0.2750 -0.6469L0.2625 -0.6246L0.2451 -0.6057L0.2228 -0.5908L0.1930 -0.5798L0.1483 -0.5689L0.1045 -0.5625L0.1045 -0.5013L0.2615 -0.5013Z"/>
<text transform="translate(273.82 1332.74) scale(1 1.02)" font-size="104.17" text-anchor="start" xml:space="preserve">.4</text>
<path transform="translate(487.89 983.86) scale(104.17)" d="M0.2615 0.0000L0.3480 0.0000L0.3480 -0.7080L0.2924 -0.7080L0.2849 -0.6792L0.2750 -0.6469L0.2625 -0.6246L0.2451 -0.6057L0.2228 -0.5908L0.1930 -0.5798L0.1483 -0.5689L0.1045 -0.5625L0.1045 -0.5013L0.2615 -0.5013Z"/>
<text transform="translate(545.83 983.86) scale(1 1.02)" font-size="104.17" text-anchor="start" xml:space="preserve">0</text>
<text transform="translate(603.76 947.86) scale(1 1.02)" font-size="72.92" text-anchor="start" xml:space="preserve">0</text>
<path d="M401.29 934.86L447.29 980.86M401.29 980.86L447.29 934.86" stroke="#000" stroke-width="4.2" stroke-linecap="round" fill="none"/>
<path transform="translate(215.88 983.86) scale(104.17)" d="M0.2615 0.0000L0.3480 0.0000L0.3480 -0.7080L0.2924 -0.7080L0.2849 -0.6792L0.2750 -0.6469L0.2625 -0.6246L0.2451 -0.6057L0.2228 -0.5908L0.1930 -0.5798L0.1483 -0.5689L0.1045 -0.5625L0.1045 -0.5013L0.2615 -0.5013Z"/>
<text transform="translate(273.82 983.86) scale(1 1.02)" font-size="104.17" text-anchor="start" xml:space="preserve">.6</text>
<path transform="translate(487.89 676.13) scale(104.17)" d="M0.2615 0.0000L0.3480 0.0000L0.3480 -0.7080L0.2924 -0.7080L0.2849 -0.6792L0.2750 -0.6469L0.2625 -0.6246L0.2451 -0.6057L0.2228 -0.5908L0.1930 -0.5798L0.1483 -0.5689L0.1045 -0.5625L0.1045 -0.5013L0.2615 -0.5013Z"/>
<text transform="translate(545.83 676.13) scale(1 1.02)" font-size="104.17" text-anchor="start" xml:space="preserve">0</text>
<text transform="translate(603.76 640.13) scale(1 1.02)" font-size="72.92" text-anchor="start" xml:space="preserve">0</text>
<path d="M401.29 627.13L447.29 673.13M401.29 673.13L447.29 627.13" stroke="#000" stroke-width="4.2" stroke-linecap="round" fill="none"/>
<path transform="translate(215.88 676.13) scale(104.17)" d="M0.2615 0.0000L0.3480 0.0000L0.3480 -0.7080L0.2924 -0.7080L0.2849 -0.6792L0.2750 -0.6469L0.2625 -0.6246L0.2451 -0.6057L0.2228 -0.5908L0.1930 -0.5798L0.1483 -0.5689L0.1045 -0.5625L0.1045 -0.5013L0.2615 -0.5013Z"/>
<text transform="translate(273.82 676.13) scale(1 1.02)" font-size="104.17" text-anchor="start" xml:space="preserve">.8</text>
<path transform="translate(495.99 401.35) scale(104.17)" d="M0.2615 0.0000L0.3480 0.0000L0.3480 -0.7080L0.2924 -0.7080L0.2849 -0.6792L0.2750 -0.6469L0.2625 -0.6246L0.2451 -0.6057L0.2228 -0.5908L0.1930 -0.5798L0.1483 -0.5689L0.1045 -0.5625L0.1045 -0.5013L0.2615 -0.5013Z"/>
<text transform="translate(553.93 401.35) scale(1 1.02)" font-size="104.17" text-anchor="start" xml:space="preserve">0</text>
<text transform="translate(611.86 365.35) scale(1 1.02)" font-size="72.92" text-anchor="start" xml:space="preserve">0</text>
<path d="M409.39 352.35L455.39 398.35M409.39 398.35L455.39 352.35" stroke="#000" stroke-width="4.2" stroke-linecap="round" fill="none"/>
<text transform="translate(310.86 401.35) scale(1 1.02)" font-size="104.17" text-anchor="start" xml:space="preserve">2</text>
<path transform="translate(469.17 2642) scale(104.17)" d="M0.2615 0.0000L0.3480 0.0000L0.3480 -0.7080L0.2924 -0.7080L0.2849 -0.6792L0.2750 -0.6469L0.2625 -0.6246L0.2451 -0.6057L0.2228 -0.5908L0.1930 -0.5798L0.1483 -0.5689L0.1045 -0.5625L0.1045 -0.5013L0.2615 -0.5013Z"/>
<text transform="translate(527.1 2642) scale(1 1.02)" font-size="104.17" text-anchor="start" xml:space="preserve">80</text>
<text transform="translate(534 2863.4) scale(1 1.02)" font-size="104.17" text-anchor="start" xml:space="preserve">90</text>
<text transform="translate(591.13 3084.8) scale(1 1.02)" font-size="104.17" text-anchor="start" xml:space="preserve">0</text>
<text transform="translate(529.4 3306.2) scale(1 1.02)" font-size="104.17" text-anchor="start" xml:space="preserve">90</text>
<path d="M459.15 3280.2L518.65 3280.2" stroke="#000" stroke-width="4.2" stroke-linecap="round" fill="none"/>
<path transform="translate(472.27 3527.6) scale(104.17)" d="M0.2615 0.0000L0.3480 0.0000L0.3480 -0.7080L0.2924 -0.7080L0.2849 -0.6792L0.2750 -0.6469L0.2625 -0.6246L0.2451 -0.6057L0.2228 -0.5908L0.1930 -0.5798L0.1483 -0.5689L0.1045 -0.5625L0.1045 -0.5013L0.2615 -0.5013Z"/>
<text transform="translate(530.2 3527.6) scale(1 1.02)" font-size="104.17" text-anchor="start" xml:space="preserve">80</text>
<path d="M402.02 3501.6L461.52 3501.6" stroke="#000" stroke-width="4.2" stroke-linecap="round" fill="none"/>
<text x="2227.5" y="3763.5" font-size="104.17" text-anchor="middle" >frequency [Hz]</text>
<text transform="translate(186.8 1217.7) rotate(-90)" font-size="104.17" text-anchor="middle">magnitude [V/V]</text>
<text transform="translate(361.1 3053.7) rotate(-90)" font-size="104.17" text-anchor="middle">phase [deg]</text>
<path d="M726.67 154.05H1500.23Q1516.9 154.05 1516.9 170.72000000000003V518.23Q1516.9 534.9 1500.23 534.9H726.67Q710.0 534.9 710.0 518.23V170.72000000000003Q710.0 154.05 726.67 154.05Z" fill="#fff" fill-opacity="0.8" stroke="#cccccc" stroke-opacity="0.8" stroke-width="4.17"/>
<path d="M742.8 217H910.2" stroke="#1f77b4" stroke-width="6.25" stroke-linecap="square" fill="none"/>
<text x="971.43" y="245.5" font-size="83.33" text-anchor="start" xml:space="preserve">in</text>
<path transform="translate(1036.28 245.5) scale(83.33)" d="M0.2615 0.0000L0.3480 0.0000L0.3480 -0.7080L0.2924 -0.7080L0.2849 -0.6792L0.2750 -0.6469L0.2625 -0.6246L0.2451 -0.6057L0.2228 -0.5908L0.1930 -0.5798L0.1483 -0.5689L0.1045 -0.5625L0.1045 -0.5013L0.2615 -0.5013Z"/>
<text x="1082.63" y="245.5" font-size="83.33" text-anchor="start" xml:space="preserve"> - inmon</text>
<path transform="translate(1383.64 245.5) scale(83.33)" d="M0.2615 0.0000L0.3480 0.0000L0.3480 -0.7080L0.2924 -0.7080L0.2849 -0.6792L0.2750 -0.6469L0.2625 -0.6246L0.2451 -0.6057L0.2228 -0.5908L0.1930 -0.5798L0.1483 -0.5689L0.1045 -0.5625L0.1045 -0.5013L0.2615 -0.5013Z"/>
<path d="M742.8 335.9H910.2" stroke="#ff7f0e" stroke-width="6.25" stroke-linecap="square" fill="none"/>
<text x="971.43" y="364.4" font-size="83.33" text-anchor="start" xml:space="preserve">in</text>
<path transform="translate(1036.28 364.4) scale(83.33)" d="M0.2615 0.0000L0.3480 0.0000L0.3480 -0.7080L0.2924 -0.7080L0.2849 -0.6792L0.2750 -0.6469L0.2625 -0.6246L0.2451 -0.6057L0.2228 -0.5908L0.1930 -0.5798L0.1483 -0.5689L0.1045 -0.5625L0.1045 -0.5013L0.2615 -0.5013Z"/>
<text x="1082.63" y="364.4" font-size="83.33" text-anchor="start" xml:space="preserve"> - outmon</text>
<path transform="translate(1434.62 364.4) scale(83.33)" d="M0.2615 0.0000L0.3480 0.0000L0.3480 -0.7080L0.2924 -0.7080L0.2849 -0.6792L0.2750 -0.6469L0.2625 -0.6246L0.2451 -0.6057L0.2228 -0.5908L0.1930 -0.5798L0.1483 -0.5689L0.1045 -0.5625L0.1045 -0.5013L0.2615 -0.5013Z"/>
<path d="M742.8 454.8H910.2" stroke="#2ca02c" stroke-width="6.25" stroke-linecap="square" fill="none"/>
<text x="971.43" y="483.3" font-size="83.33" text-anchor="start" xml:space="preserve">in</text>
<path transform="translate(1036.28 483.3) scale(83.33)" d="M0.2615 0.0000L0.3480 0.0000L0.3480 -0.7080L0.2924 -0.7080L0.2849 -0.6792L0.2750 -0.6469L0.2625 -0.6246L0.2451 -0.6057L0.2228 -0.5908L0.1930 -0.5798L0.1483 -0.5689L0.1045 -0.5625L0.1045 -0.5013L0.2615 -0.5013Z"/>
<text x="1082.63" y="483.3" font-size="83.33" text-anchor="start" xml:space="preserve"> - out</text>
<path transform="translate(1272.52 483.3) scale(83.33)" d="M0.2615 0.0000L0.3480 0.0000L0.3480 -0.7080L0.2924 -0.7080L0.2849 -0.6792L0.2750 -0.6469L0.2625 -0.6246L0.2451 -0.6057L0.2228 -0.5908L0.1930 -0.5798L0.1483 -0.5689L0.1045 -0.5625L0.1045 -0.5013L0.2615 -0.5013Z"/>
</svg>
</body></html>
